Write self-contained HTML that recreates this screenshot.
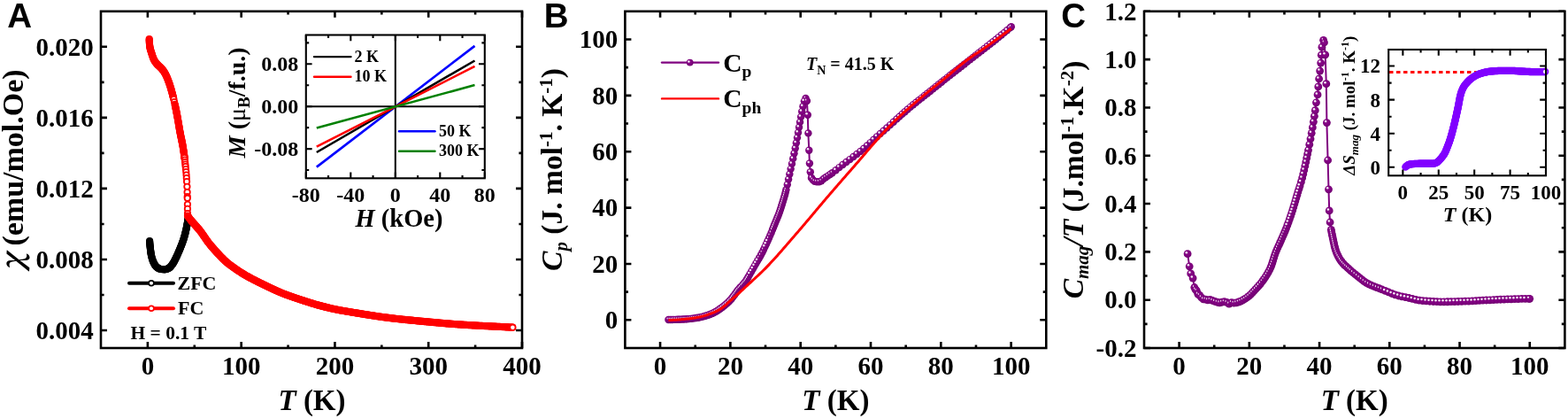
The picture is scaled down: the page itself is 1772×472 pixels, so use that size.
<!DOCTYPE html>
<html><head><meta charset="utf-8"><title>Figure</title>
<style>html,body{margin:0;padding:0;background:#fff;}svg{display:block;}</style>
</head><body>
<svg width="1772" height="472" viewBox="0 0 1772 472">
<defs><radialGradient id="ball" cx="0.45" cy="0.42" r="0.6">
<stop offset="0" stop-color="#8a108a"/><stop offset="0.6" stop-color="#800080"/><stop offset="1" stop-color="#6c006c"/>
</radialGradient></defs>
<rect width="1772" height="472" fill="#fff"/>
<g font-family="'Liberation Serif', 'Times New Roman', serif" font-weight="bold" fill="#000">
<path d="M166.89 393V386M166.89 12.8V19.8M272.67 393V386M272.67 12.8V19.8M378.44 393V386M378.44 12.8V19.8M484.22 393V386M484.22 12.8V19.8M590 393V386M590 12.8V19.8M219.78 393V389.4M219.78 12.8V16.4M325.56 393V389.4M325.56 12.8V16.4M431.33 393V389.4M431.33 12.8V16.4M537.11 393V389.4M537.11 12.8V16.4M114 372.99H121M590 372.99H583M114 292.95H121M590 292.95H583M114 212.91H121M590 212.91H583M114 132.86H121M590 132.86H583M114 52.82H121M590 52.82H583M114 332.97H117.6M590 332.97H586.4M114 252.93H117.6M590 252.93H586.4M114 172.88H117.6M590 172.88H586.4M114 92.84H117.6M590 92.84H586.4" stroke="#000" stroke-width="2.6" fill="none"/>
<rect x="114" y="12.8" width="476" height="380.2" stroke="#000" stroke-width="2.6" fill="none"/>
<text x="166.89" y="423.2" font-size="29" text-anchor="middle">0</text>
<text x="272.67" y="423.2" font-size="29" text-anchor="middle">100</text>
<text x="378.44" y="423.2" font-size="29" text-anchor="middle">200</text>
<text x="484.22" y="423.2" font-size="29" text-anchor="middle">300</text>
<text x="590" y="423.2" font-size="29" text-anchor="middle">400</text>
<text x="105.8" y="382.79" font-size="29" text-anchor="end">0.004</text>
<text x="105.8" y="302.75" font-size="29" text-anchor="end">0.008</text>
<text x="105.8" y="222.71" font-size="29" text-anchor="end">0.012</text>
<text x="105.8" y="142.66" font-size="29" text-anchor="end">0.016</text>
<text x="105.8" y="62.62" font-size="29" text-anchor="end">0.020</text>
</g>
<g fill="#fff" stroke="#000" stroke-width="1.8">
<circle cx="169.1" cy="272" r="3.2"/>
<circle cx="169.17" cy="273" r="3.2"/>
<circle cx="169.24" cy="274" r="3.2"/>
<circle cx="169.32" cy="274.99" r="3.2"/>
<circle cx="169.4" cy="275.99" r="3.2"/>
<circle cx="169.49" cy="276.99" r="3.2"/>
<circle cx="169.59" cy="277.98" r="3.2"/>
<circle cx="169.69" cy="278.98" r="3.2"/>
<circle cx="169.8" cy="279.97" r="3.2"/>
<circle cx="169.91" cy="280.96" r="3.2"/>
<circle cx="170.02" cy="281.96" r="3.2"/>
<circle cx="170.14" cy="282.96" r="3.2"/>
<circle cx="170.27" cy="283.95" r="3.2"/>
<circle cx="170.4" cy="284.95" r="3.2"/>
<circle cx="170.55" cy="285.94" r="3.2"/>
<circle cx="170.71" cy="286.92" r="3.2"/>
<circle cx="170.88" cy="287.9" r="3.2"/>
<circle cx="171.08" cy="288.87" r="3.2"/>
<circle cx="171.3" cy="289.85" r="3.2"/>
<circle cx="171.55" cy="290.83" r="3.2"/>
<circle cx="171.82" cy="291.8" r="3.2"/>
<circle cx="172.13" cy="292.77" r="3.2"/>
<circle cx="172.46" cy="293.72" r="3.2"/>
<circle cx="172.81" cy="294.66" r="3.2"/>
<circle cx="173.18" cy="295.58" r="3.2"/>
<circle cx="173.58" cy="296.47" r="3.2"/>
<circle cx="174.02" cy="297.37" r="3.2"/>
<circle cx="174.51" cy="298.28" r="3.2"/>
<circle cx="175.06" cy="299.16" r="3.2"/>
<circle cx="175.65" cy="300" r="3.2"/>
<circle cx="176.28" cy="300.78" r="3.2"/>
<circle cx="176.95" cy="301.45" r="3.2"/>
<circle cx="177.69" cy="302.08" r="3.2"/>
<circle cx="178.52" cy="302.69" r="3.2"/>
<circle cx="179.43" cy="303.23" r="3.2"/>
<circle cx="180.36" cy="303.63" r="3.2"/>
<circle cx="181.29" cy="303.85" r="3.2"/>
<circle cx="182.26" cy="304" r="3.2"/>
<circle cx="183.26" cy="304.13" r="3.2"/>
<circle cx="184.28" cy="304.23" r="3.2"/>
<circle cx="185.29" cy="304.29" r="3.2"/>
<circle cx="186.28" cy="304.29" r="3.2"/>
<circle cx="187.29" cy="304.16" r="3.2"/>
<circle cx="188.29" cy="303.9" r="3.2"/>
<circle cx="189.27" cy="303.55" r="3.2"/>
<circle cx="190.17" cy="303.16" r="3.2"/>
<circle cx="190.98" cy="302.73" r="3.2"/>
<circle cx="191.75" cy="302.16" r="3.2"/>
<circle cx="192.49" cy="301.47" r="3.2"/>
<circle cx="193.18" cy="300.69" r="3.2"/>
<circle cx="193.84" cy="299.87" r="3.2"/>
<circle cx="194.47" cy="299.03" r="3.2"/>
<circle cx="195.05" cy="298.22" r="3.2"/>
<circle cx="195.61" cy="297.41" r="3.2"/>
<circle cx="196.12" cy="296.56" r="3.2"/>
<circle cx="196.62" cy="295.69" r="3.2"/>
<circle cx="197.09" cy="294.8" r="3.2"/>
<circle cx="197.55" cy="293.9" r="3.2"/>
<circle cx="198" cy="293" r="3.2"/>
<circle cx="198.45" cy="292.1" r="3.2"/>
<circle cx="198.9" cy="291.21" r="3.2"/>
<circle cx="199.33" cy="290.31" r="3.2"/>
<circle cx="199.76" cy="289.4" r="3.2"/>
<circle cx="200.17" cy="288.49" r="3.2"/>
<circle cx="200.58" cy="287.58" r="3.2"/>
<circle cx="200.99" cy="286.66" r="3.2"/>
<circle cx="201.39" cy="285.75" r="3.2"/>
<circle cx="201.79" cy="284.83" r="3.2"/>
<circle cx="202.19" cy="283.91" r="3.2"/>
<circle cx="202.58" cy="282.99" r="3.2"/>
<circle cx="202.97" cy="282.07" r="3.2"/>
<circle cx="203.35" cy="281.15" r="3.2"/>
<circle cx="203.73" cy="280.22" r="3.2"/>
<circle cx="204.11" cy="279.29" r="3.2"/>
<circle cx="204.47" cy="278.36" r="3.2"/>
<circle cx="204.84" cy="277.43" r="3.2"/>
<circle cx="205.19" cy="276.5" r="3.2"/>
<circle cx="205.55" cy="275.56" r="3.2"/>
<circle cx="205.9" cy="274.63" r="3.2"/>
<circle cx="206.25" cy="273.69" r="3.2"/>
<circle cx="206.59" cy="272.75" r="3.2"/>
<circle cx="206.92" cy="271.8" r="3.2"/>
<circle cx="207.25" cy="270.86" r="3.2"/>
<circle cx="207.56" cy="269.91" r="3.2"/>
<circle cx="207.86" cy="268.95" r="3.2"/>
<circle cx="208.15" cy="268" r="3.2"/>
<circle cx="208.43" cy="267.04" r="3.2"/>
<circle cx="208.69" cy="266.08" r="3.2"/>
<circle cx="208.95" cy="265.11" r="3.2"/>
<circle cx="209.21" cy="264.14" r="3.2"/>
<circle cx="209.45" cy="263.17" r="3.2"/>
<circle cx="209.69" cy="262.2" r="3.2"/>
<circle cx="209.92" cy="261.22" r="3.2"/>
<circle cx="210.14" cy="260.25" r="3.2"/>
<circle cx="210.36" cy="259.27" r="3.2"/>
<circle cx="210.57" cy="258.3" r="3.2"/>
<circle cx="210.78" cy="257.32" r="3.2"/>
<circle cx="210.98" cy="256.34" r="3.2"/>
<circle cx="211.17" cy="255.36" r="3.2"/>
<circle cx="211.36" cy="254.37" r="3.2"/>
<circle cx="211.54" cy="253.39" r="3.2"/>
<circle cx="211.73" cy="252.41" r="3.2"/>
<circle cx="211.9" cy="251.42" r="3.2"/>
<circle cx="212.08" cy="250.44" r="3.2"/>
<circle cx="212.25" cy="249.45" r="3.2"/>
<circle cx="212.41" cy="248.47" r="3.2"/>
<circle cx="212.57" cy="247.48" r="3.2"/>
<circle cx="212.72" cy="246.49" r="3.2"/>
<circle cx="212.8" cy="246" r="3.2"/>
</g>
<g fill="#fff" stroke="#f00" stroke-width="1.8">
<circle cx="168.7" cy="44" r="3.2"/>
<circle cx="168.71" cy="45.01" r="3.2"/>
<circle cx="168.74" cy="46.02" r="3.2"/>
<circle cx="168.79" cy="47.02" r="3.2"/>
<circle cx="168.85" cy="48.02" r="3.2"/>
<circle cx="168.92" cy="49.02" r="3.2"/>
<circle cx="169.01" cy="50.01" r="3.2"/>
<circle cx="169.1" cy="51" r="3.2"/>
<circle cx="169.2" cy="51.98" r="3.2"/>
<circle cx="169.32" cy="52.97" r="3.2"/>
<circle cx="169.5" cy="53.94" r="3.2"/>
<circle cx="169.72" cy="54.92" r="3.2"/>
<circle cx="169.98" cy="55.89" r="3.2"/>
<circle cx="170.26" cy="56.85" r="3.2"/>
<circle cx="170.57" cy="57.82" r="3.2"/>
<circle cx="170.88" cy="58.78" r="3.2"/>
<circle cx="171.19" cy="59.73" r="3.2"/>
<circle cx="171.5" cy="60.69" r="3.2"/>
<circle cx="171.8" cy="61.64" r="3.2"/>
<circle cx="172.1" cy="62.6" r="3.2"/>
<circle cx="172.42" cy="63.56" r="3.2"/>
<circle cx="172.75" cy="64.51" r="3.2"/>
<circle cx="173.1" cy="65.45" r="3.2"/>
<circle cx="173.48" cy="66.38" r="3.2"/>
<circle cx="173.89" cy="67.27" r="3.2"/>
<circle cx="174.34" cy="68.14" r="3.2"/>
<circle cx="174.85" cy="69" r="3.2"/>
<circle cx="175.41" cy="69.84" r="3.2"/>
<circle cx="176.01" cy="70.66" r="3.2"/>
<circle cx="176.63" cy="71.45" r="3.2"/>
<circle cx="177.27" cy="72.23" r="3.2"/>
<circle cx="177.92" cy="72.97" r="3.2"/>
<circle cx="178.63" cy="73.67" r="3.2"/>
<circle cx="179.37" cy="74.34" r="3.2"/>
<circle cx="180.13" cy="75.01" r="3.2"/>
<circle cx="180.88" cy="75.68" r="3.2"/>
<circle cx="181.6" cy="76.38" r="3.2"/>
<circle cx="182.27" cy="77.11" r="3.2"/>
<circle cx="182.93" cy="77.86" r="3.2"/>
<circle cx="183.58" cy="78.63" r="3.2"/>
<circle cx="184.22" cy="79.42" r="3.2"/>
<circle cx="184.82" cy="80.22" r="3.2"/>
<circle cx="185.4" cy="81.04" r="3.2"/>
<circle cx="185.93" cy="81.88" r="3.2"/>
<circle cx="186.42" cy="82.73" r="3.2"/>
<circle cx="186.89" cy="83.6" r="3.2"/>
<circle cx="187.34" cy="84.48" r="3.2"/>
<circle cx="187.78" cy="85.38" r="3.2"/>
<circle cx="188.2" cy="86.3" r="3.2"/>
<circle cx="188.6" cy="87.22" r="3.2"/>
<circle cx="189" cy="88.15" r="3.2"/>
<circle cx="189.38" cy="89.09" r="3.2"/>
<circle cx="189.75" cy="90.02" r="3.2"/>
<circle cx="190.11" cy="90.96" r="3.2"/>
<circle cx="190.46" cy="91.89" r="3.2"/>
<circle cx="190.81" cy="92.83" r="3.2"/>
<circle cx="191.14" cy="93.77" r="3.2"/>
<circle cx="191.47" cy="94.71" r="3.2"/>
<circle cx="191.79" cy="95.66" r="3.2"/>
<circle cx="192.1" cy="96.61" r="3.2"/>
<circle cx="192.4" cy="97.57" r="3.2"/>
<circle cx="192.7" cy="98.53" r="3.2"/>
<circle cx="192.98" cy="99.48" r="3.2"/>
<circle cx="193.27" cy="100.45" r="3.2"/>
<circle cx="193.55" cy="101.41" r="3.2"/>
<circle cx="193.82" cy="102.37" r="3.2"/>
<circle cx="194.09" cy="103.33" r="3.2"/>
<circle cx="194.36" cy="104.29" r="3.2"/>
<circle cx="194.62" cy="105.26" r="3.2"/>
<circle cx="194.87" cy="106.23" r="3.2"/>
<circle cx="195.12" cy="107.19" r="3.2"/>
<circle cx="195.37" cy="108.16" r="3.2"/>
<circle cx="195.61" cy="109.13" r="3.2"/>
<circle cx="195.85" cy="110.11" r="3.2"/>
<circle cx="196.09" cy="111.08" r="3.2"/>
<circle cx="196.32" cy="112.05" r="3.2"/>
<circle cx="196.99" cy="114.98" r="3.2"/>
<circle cx="197.65" cy="117.9" r="3.2"/>
<circle cx="197.86" cy="118.88" r="3.2"/>
<circle cx="198.07" cy="119.86" r="3.2"/>
<circle cx="198.28" cy="120.84" r="3.2"/>
<circle cx="198.48" cy="121.81" r="3.2"/>
<circle cx="198.68" cy="122.79" r="3.2"/>
<circle cx="198.88" cy="123.77" r="3.2"/>
<circle cx="199.08" cy="124.75" r="3.2"/>
<circle cx="199.28" cy="125.74" r="3.2"/>
<circle cx="199.47" cy="126.72" r="3.2"/>
<circle cx="199.67" cy="127.7" r="3.2"/>
<circle cx="199.86" cy="128.68" r="3.2"/>
<circle cx="200.05" cy="129.66" r="3.2"/>
<circle cx="200.23" cy="130.64" r="3.2"/>
<circle cx="200.42" cy="131.63" r="3.2"/>
<circle cx="200.6" cy="132.61" r="3.2"/>
<circle cx="200.78" cy="133.59" r="3.2"/>
<circle cx="200.95" cy="134.58" r="3.2"/>
<circle cx="201.12" cy="135.56" r="3.2"/>
<circle cx="201.29" cy="136.55" r="3.2"/>
<circle cx="201.46" cy="137.53" r="3.2"/>
<circle cx="201.63" cy="138.52" r="3.2"/>
<circle cx="201.79" cy="139.51" r="3.2"/>
<circle cx="201.96" cy="140.49" r="3.2"/>
<circle cx="202.12" cy="141.48" r="3.2"/>
<circle cx="202.28" cy="142.47" r="3.2"/>
<circle cx="202.45" cy="143.45" r="3.2"/>
<circle cx="202.62" cy="144.44" r="3.2"/>
<circle cx="202.78" cy="145.43" r="3.2"/>
<circle cx="202.96" cy="146.41" r="3.2"/>
<circle cx="203.13" cy="147.4" r="3.2"/>
<circle cx="203.3" cy="148.38" r="3.2"/>
<circle cx="203.48" cy="149.36" r="3.2"/>
<circle cx="203.67" cy="150.35" r="3.2"/>
<circle cx="203.85" cy="151.33" r="3.2"/>
<circle cx="204.05" cy="152.31" r="3.2"/>
<circle cx="204.25" cy="153.29" r="3.2"/>
<circle cx="204.45" cy="154.27" r="3.2"/>
<circle cx="204.66" cy="155.25" r="3.2"/>
<circle cx="204.86" cy="156.23" r="3.2"/>
<circle cx="205.07" cy="157.21" r="3.2"/>
<circle cx="205.28" cy="158.19" r="3.2"/>
<circle cx="205.48" cy="159.16" r="3.2"/>
<circle cx="205.68" cy="160.14" r="3.2"/>
<circle cx="205.88" cy="161.12" r="3.2"/>
<circle cx="206.07" cy="162.11" r="3.2"/>
<circle cx="206.26" cy="163.09" r="3.2"/>
<circle cx="206.44" cy="164.07" r="3.2"/>
<circle cx="206.61" cy="165.06" r="3.2"/>
<circle cx="206.77" cy="166.04" r="3.2"/>
<circle cx="206.94" cy="167.03" r="3.2"/>
<circle cx="207.09" cy="168.01" r="3.2"/>
<circle cx="207.25" cy="169" r="3.2"/>
<circle cx="207.4" cy="169.99" r="3.2"/>
<circle cx="207.55" cy="170.98" r="3.2"/>
<circle cx="207.7" cy="171.97" r="3.2"/>
<circle cx="207.84" cy="172.96" r="3.2"/>
<circle cx="207.98" cy="173.95" r="3.2"/>
<circle cx="208.11" cy="174.94" r="3.2"/>
<circle cx="208.25" cy="175.93" r="3.2"/>
<circle cx="208.37" cy="176.92" r="3.2"/>
<circle cx="208.5" cy="177.92" r="3.2"/>
<circle cx="208.51" cy="178" r="3.2"/>
<circle cx="208.51" cy="178" r="3.2"/>
<circle cx="208.85" cy="180.5" r="3.2"/>
<circle cx="209.12" cy="183" r="3.2"/>
<circle cx="209.39" cy="185.5" r="3.2"/>
<circle cx="209.65" cy="188" r="3.2"/>
<circle cx="209.97" cy="191" r="3.2"/>
<circle cx="210.29" cy="194" r="3.2"/>
<circle cx="210.57" cy="197.5" r="3.2"/>
<circle cx="210.8" cy="201" r="3.2"/>
<circle cx="211.07" cy="205" r="3.2"/>
<circle cx="211.42" cy="210.8" r="3.2"/>
<circle cx="211.6" cy="217.1" r="3.2"/>
<circle cx="211.73" cy="222" r="3.2"/>
<circle cx="211.78" cy="223.8" r="3.2"/>
<circle cx="211.92" cy="230.8" r="3.2"/>
<circle cx="211.95" cy="235.9" r="3.2"/>
<circle cx="211.98" cy="241" r="3.2"/>
<circle cx="212" cy="243.5" r="3.2"/>
<circle cx="212.55" cy="244.34" r="3.2"/>
<circle cx="213.11" cy="245.17" r="3.2"/>
<circle cx="213.68" cy="245.99" r="3.2"/>
<circle cx="214.27" cy="246.8" r="3.2"/>
<circle cx="214.87" cy="247.59" r="3.2"/>
<circle cx="215.49" cy="248.37" r="3.2"/>
<circle cx="216.13" cy="249.14" r="3.2"/>
<circle cx="216.79" cy="249.89" r="3.2"/>
<circle cx="217.45" cy="250.64" r="3.2"/>
<circle cx="218.12" cy="251.39" r="3.2"/>
<circle cx="218.79" cy="252.13" r="3.2"/>
<circle cx="219.46" cy="252.88" r="3.2"/>
<circle cx="220.12" cy="253.63" r="3.2"/>
<circle cx="220.77" cy="254.39" r="3.2"/>
<circle cx="221.43" cy="255.14" r="3.2"/>
<circle cx="222.09" cy="255.89" r="3.2"/>
<circle cx="222.76" cy="256.65" r="3.2"/>
<circle cx="223.41" cy="257.4" r="3.2"/>
<circle cx="224.07" cy="258.16" r="3.2"/>
<circle cx="224.71" cy="258.92" r="3.2"/>
<circle cx="225.35" cy="259.69" r="3.2"/>
<circle cx="225.97" cy="260.47" r="3.2"/>
<circle cx="226.59" cy="261.25" r="3.2"/>
<circle cx="227.19" cy="262.05" r="3.2"/>
<circle cx="227.78" cy="262.86" r="3.2"/>
<circle cx="228.36" cy="263.67" r="3.2"/>
<circle cx="228.94" cy="264.49" r="3.2"/>
<circle cx="229.51" cy="265.31" r="3.2"/>
<circle cx="230.07" cy="266.14" r="3.2"/>
<circle cx="230.64" cy="266.97" r="3.2"/>
<circle cx="231.2" cy="267.8" r="3.2"/>
<circle cx="231.76" cy="268.62" r="3.2"/>
<circle cx="232.33" cy="269.45" r="3.2"/>
<circle cx="232.9" cy="270.28" r="3.2"/>
<circle cx="233.47" cy="271.1" r="3.2"/>
<circle cx="234.05" cy="271.91" r="3.2"/>
<circle cx="234.64" cy="272.72" r="3.2"/>
<circle cx="235.24" cy="273.52" r="3.2"/>
<circle cx="235.85" cy="274.31" r="3.2"/>
<circle cx="236.47" cy="275.09" r="3.2"/>
<circle cx="237.09" cy="275.87" r="3.2"/>
<circle cx="237.72" cy="276.64" r="3.2"/>
<circle cx="238.36" cy="277.41" r="3.2"/>
<circle cx="239.01" cy="278.17" r="3.2"/>
<circle cx="239.65" cy="278.94" r="3.2"/>
<circle cx="240.31" cy="279.7" r="3.2"/>
<circle cx="240.97" cy="280.45" r="3.2"/>
<circle cx="241.63" cy="281.2" r="3.2"/>
<circle cx="242.29" cy="281.95" r="3.2"/>
<circle cx="242.96" cy="282.7" r="3.2"/>
<circle cx="243.64" cy="283.44" r="3.2"/>
<circle cx="244.31" cy="284.18" r="3.2"/>
<circle cx="244.99" cy="284.91" r="3.2"/>
<circle cx="245.67" cy="285.64" r="3.2"/>
<circle cx="246.35" cy="286.38" r="3.2"/>
<circle cx="247.03" cy="287.11" r="3.2"/>
<circle cx="247.72" cy="287.84" r="3.2"/>
<circle cx="248.4" cy="288.57" r="3.2"/>
<circle cx="249.09" cy="289.3" r="3.2"/>
<circle cx="249.79" cy="290.02" r="3.2"/>
<circle cx="250.48" cy="290.74" r="3.2"/>
<circle cx="251.19" cy="291.46" r="3.2"/>
<circle cx="251.89" cy="292.17" r="3.2"/>
<circle cx="252.61" cy="292.87" r="3.2"/>
<circle cx="253.33" cy="293.57" r="3.2"/>
<circle cx="254.05" cy="294.25" r="3.2"/>
<circle cx="254.79" cy="294.93" r="3.2"/>
<circle cx="255.53" cy="295.59" r="3.2"/>
<circle cx="256.28" cy="296.24" r="3.2"/>
<circle cx="257.04" cy="296.88" r="3.2"/>
<circle cx="257.82" cy="297.51" r="3.2"/>
<circle cx="258.6" cy="298.13" r="3.2"/>
<circle cx="259.39" cy="298.74" r="3.2"/>
<circle cx="260.19" cy="299.35" r="3.2"/>
<circle cx="260.99" cy="299.94" r="3.2"/>
<circle cx="261.8" cy="300.53" r="3.2"/>
<circle cx="262.62" cy="301.12" r="3.2"/>
<circle cx="263.44" cy="301.7" r="3.2"/>
<circle cx="264.25" cy="302.28" r="3.2"/>
<circle cx="265.08" cy="302.85" r="3.2"/>
<circle cx="265.89" cy="303.43" r="3.2"/>
<circle cx="266.72" cy="304" r="3.2"/>
<circle cx="267.54" cy="304.56" r="3.2"/>
<circle cx="268.37" cy="305.13" r="3.2"/>
<circle cx="269.2" cy="305.68" r="3.2"/>
<circle cx="270.03" cy="306.24" r="3.2"/>
<circle cx="270.87" cy="306.79" r="3.2"/>
<circle cx="271.71" cy="307.33" r="3.2"/>
<circle cx="272.55" cy="307.87" r="3.2"/>
<circle cx="273.4" cy="308.41" r="3.2"/>
<circle cx="274.24" cy="308.93" r="3.2"/>
<circle cx="275.1" cy="309.46" r="3.2"/>
<circle cx="275.95" cy="309.97" r="3.2"/>
<circle cx="276.81" cy="310.48" r="3.2"/>
<circle cx="277.68" cy="310.98" r="3.2"/>
<circle cx="278.54" cy="311.48" r="3.2"/>
<circle cx="279.42" cy="311.97" r="3.2"/>
<circle cx="280.29" cy="312.45" r="3.2"/>
<circle cx="281.17" cy="312.93" r="3.2"/>
<circle cx="282.05" cy="313.41" r="3.2"/>
<circle cx="282.93" cy="313.88" r="3.2"/>
<circle cx="283.82" cy="314.35" r="3.2"/>
<circle cx="284.7" cy="314.82" r="3.2"/>
<circle cx="285.59" cy="315.28" r="3.2"/>
<circle cx="286.47" cy="315.75" r="3.2"/>
<circle cx="287.36" cy="316.21" r="3.2"/>
<circle cx="288.25" cy="316.66" r="3.2"/>
<circle cx="289.14" cy="317.12" r="3.2"/>
<circle cx="290.03" cy="317.57" r="3.2"/>
<circle cx="290.93" cy="318.02" r="3.2"/>
<circle cx="291.82" cy="318.46" r="3.2"/>
<circle cx="292.72" cy="318.9" r="3.2"/>
<circle cx="293.62" cy="319.34" r="3.2"/>
<circle cx="294.52" cy="319.78" r="3.2"/>
<circle cx="295.42" cy="320.22" r="3.2"/>
<circle cx="296.32" cy="320.65" r="3.2"/>
<circle cx="297.22" cy="321.09" r="3.2"/>
<circle cx="298.12" cy="321.52" r="3.2"/>
<circle cx="299.02" cy="321.96" r="3.2"/>
<circle cx="299.92" cy="322.39" r="3.2"/>
<circle cx="300.82" cy="322.83" r="3.2"/>
<circle cx="301.72" cy="323.27" r="3.2"/>
<circle cx="302.62" cy="323.7" r="3.2"/>
<circle cx="303.53" cy="324.14" r="3.2"/>
<circle cx="304.43" cy="324.57" r="3.2"/>
<circle cx="305.33" cy="325" r="3.2"/>
<circle cx="306.24" cy="325.43" r="3.2"/>
<circle cx="307.14" cy="325.86" r="3.2"/>
<circle cx="308.05" cy="326.28" r="3.2"/>
<circle cx="308.96" cy="326.71" r="3.2"/>
<circle cx="309.87" cy="327.13" r="3.2"/>
<circle cx="310.78" cy="327.54" r="3.2"/>
<circle cx="311.69" cy="327.96" r="3.2"/>
<circle cx="312.6" cy="328.37" r="3.2"/>
<circle cx="313.51" cy="328.77" r="3.2"/>
<circle cx="314.43" cy="329.18" r="3.2"/>
<circle cx="315.34" cy="329.57" r="3.2"/>
<circle cx="316.26" cy="329.97" r="3.2"/>
<circle cx="317.18" cy="330.35" r="3.2"/>
<circle cx="318.11" cy="330.74" r="3.2"/>
<circle cx="319.03" cy="331.11" r="3.2"/>
<circle cx="319.95" cy="331.48" r="3.2"/>
<circle cx="320.88" cy="331.85" r="3.2"/>
<circle cx="321.81" cy="332.21" r="3.2"/>
<circle cx="322.75" cy="332.56" r="3.2"/>
<circle cx="323.68" cy="332.91" r="3.2"/>
<circle cx="324.62" cy="333.26" r="3.2"/>
<circle cx="325.56" cy="333.6" r="3.2"/>
<circle cx="326.5" cy="333.94" r="3.2"/>
<circle cx="327.44" cy="334.27" r="3.2"/>
<circle cx="328.39" cy="334.61" r="3.2"/>
<circle cx="329.33" cy="334.93" r="3.2"/>
<circle cx="330.28" cy="335.26" r="3.2"/>
<circle cx="331.22" cy="335.58" r="3.2"/>
<circle cx="332.17" cy="335.91" r="3.2"/>
<circle cx="333.12" cy="336.23" r="3.2"/>
<circle cx="334.07" cy="336.54" r="3.2"/>
<circle cx="335.02" cy="336.86" r="3.2"/>
<circle cx="335.97" cy="337.17" r="3.2"/>
<circle cx="336.92" cy="337.49" r="3.2"/>
<circle cx="337.87" cy="337.8" r="3.2"/>
<circle cx="338.82" cy="338.11" r="3.2"/>
<circle cx="339.77" cy="338.43" r="3.2"/>
<circle cx="340.72" cy="338.74" r="3.2"/>
<circle cx="341.67" cy="339.05" r="3.2"/>
<circle cx="342.62" cy="339.36" r="3.2"/>
<circle cx="343.57" cy="339.67" r="3.2"/>
<circle cx="344.52" cy="339.99" r="3.2"/>
<circle cx="345.48" cy="340.3" r="3.2"/>
<circle cx="346.43" cy="340.6" r="3.2"/>
<circle cx="347.38" cy="340.91" r="3.2"/>
<circle cx="348.33" cy="341.22" r="3.2"/>
<circle cx="349.29" cy="341.52" r="3.2"/>
<circle cx="350.24" cy="341.82" r="3.2"/>
<circle cx="351.2" cy="342.12" r="3.2"/>
<circle cx="352.15" cy="342.42" r="3.2"/>
<circle cx="353.11" cy="342.71" r="3.2"/>
<circle cx="354.07" cy="343" r="3.2"/>
<circle cx="355.02" cy="343.29" r="3.2"/>
<circle cx="355.98" cy="343.57" r="3.2"/>
<circle cx="356.94" cy="343.85" r="3.2"/>
<circle cx="357.9" cy="344.12" r="3.2"/>
<circle cx="358.87" cy="344.39" r="3.2"/>
<circle cx="359.83" cy="344.65" r="3.2"/>
<circle cx="360.79" cy="344.91" r="3.2"/>
<circle cx="361.76" cy="345.17" r="3.2"/>
<circle cx="362.72" cy="345.43" r="3.2"/>
<circle cx="363.69" cy="345.68" r="3.2"/>
<circle cx="364.66" cy="345.93" r="3.2"/>
<circle cx="365.63" cy="346.18" r="3.2"/>
<circle cx="366.6" cy="346.43" r="3.2"/>
<circle cx="367.57" cy="346.67" r="3.2"/>
<circle cx="368.54" cy="346.91" r="3.2"/>
<circle cx="369.51" cy="347.15" r="3.2"/>
<circle cx="370.49" cy="347.39" r="3.2"/>
<circle cx="371.46" cy="347.62" r="3.2"/>
<circle cx="372.43" cy="347.85" r="3.2"/>
<circle cx="373.41" cy="348.07" r="3.2"/>
<circle cx="374.38" cy="348.3" r="3.2"/>
<circle cx="375.36" cy="348.51" r="3.2"/>
<circle cx="376.34" cy="348.73" r="3.2"/>
<circle cx="377.31" cy="348.94" r="3.2"/>
<circle cx="378.29" cy="349.15" r="3.2"/>
<circle cx="379.27" cy="349.35" r="3.2"/>
<circle cx="380.25" cy="349.55" r="3.2"/>
<circle cx="381.23" cy="349.75" r="3.2"/>
<circle cx="382.21" cy="349.94" r="3.2"/>
<circle cx="383.19" cy="350.13" r="3.2"/>
<circle cx="384.17" cy="350.31" r="3.2"/>
<circle cx="385.16" cy="350.49" r="3.2"/>
<circle cx="386.14" cy="350.67" r="3.2"/>
<circle cx="387.12" cy="350.85" r="3.2"/>
<circle cx="388.11" cy="351.02" r="3.2"/>
<circle cx="389.09" cy="351.19" r="3.2"/>
<circle cx="390.08" cy="351.36" r="3.2"/>
<circle cx="391.07" cy="351.53" r="3.2"/>
<circle cx="392.05" cy="351.7" r="3.2"/>
<circle cx="393.04" cy="351.86" r="3.2"/>
<circle cx="394.03" cy="352.02" r="3.2"/>
<circle cx="395.02" cy="352.19" r="3.2"/>
<circle cx="396" cy="352.35" r="3.2"/>
<circle cx="396.99" cy="352.51" r="3.2"/>
<circle cx="397.98" cy="352.67" r="3.2"/>
<circle cx="398.96" cy="352.83" r="3.2"/>
<circle cx="399.95" cy="352.99" r="3.2"/>
<circle cx="400.94" cy="353.15" r="3.2"/>
<circle cx="401.92" cy="353.31" r="3.2"/>
<circle cx="402.91" cy="353.47" r="3.2"/>
<circle cx="403.9" cy="353.64" r="3.2"/>
<circle cx="404.89" cy="353.8" r="3.2"/>
<circle cx="405.87" cy="353.96" r="3.2"/>
<circle cx="406.86" cy="354.12" r="3.2"/>
<circle cx="407.85" cy="354.28" r="3.2"/>
<circle cx="408.84" cy="354.44" r="3.2"/>
<circle cx="409.82" cy="354.6" r="3.2"/>
<circle cx="410.81" cy="354.76" r="3.2"/>
<circle cx="411.8" cy="354.92" r="3.2"/>
<circle cx="412.79" cy="355.07" r="3.2"/>
<circle cx="413.77" cy="355.23" r="3.2"/>
<circle cx="414.76" cy="355.39" r="3.2"/>
<circle cx="415.75" cy="355.54" r="3.2"/>
<circle cx="416.74" cy="355.7" r="3.2"/>
<circle cx="417.73" cy="355.85" r="3.2"/>
<circle cx="418.72" cy="356.01" r="3.2"/>
<circle cx="419.7" cy="356.16" r="3.2"/>
<circle cx="420.69" cy="356.31" r="3.2"/>
<circle cx="421.68" cy="356.46" r="3.2"/>
<circle cx="422.67" cy="356.61" r="3.2"/>
<circle cx="423.66" cy="356.76" r="3.2"/>
<circle cx="424.65" cy="356.91" r="3.2"/>
<circle cx="425.64" cy="357.06" r="3.2"/>
<circle cx="426.63" cy="357.2" r="3.2"/>
<circle cx="427.62" cy="357.34" r="3.2"/>
<circle cx="428.61" cy="357.49" r="3.2"/>
<circle cx="429.6" cy="357.63" r="3.2"/>
<circle cx="430.59" cy="357.77" r="3.2"/>
<circle cx="431.58" cy="357.9" r="3.2"/>
<circle cx="432.57" cy="358.04" r="3.2"/>
<circle cx="433.56" cy="358.17" r="3.2"/>
<circle cx="434.55" cy="358.31" r="3.2"/>
<circle cx="435.54" cy="358.44" r="3.2"/>
<circle cx="436.53" cy="358.56" r="3.2"/>
<circle cx="437.52" cy="358.69" r="3.2"/>
<circle cx="438.52" cy="358.82" r="3.2"/>
<circle cx="439.51" cy="358.94" r="3.2"/>
<circle cx="440.5" cy="359.06" r="3.2"/>
<circle cx="441.49" cy="359.18" r="3.2"/>
<circle cx="442.48" cy="359.3" r="3.2"/>
<circle cx="443.48" cy="359.41" r="3.2"/>
<circle cx="444.47" cy="359.53" r="3.2"/>
<circle cx="445.46" cy="359.64" r="3.2"/>
<circle cx="446.45" cy="359.76" r="3.2"/>
<circle cx="447.45" cy="359.87" r="3.2"/>
<circle cx="448.44" cy="359.98" r="3.2"/>
<circle cx="449.44" cy="360.09" r="3.2"/>
<circle cx="450.43" cy="360.2" r="3.2"/>
<circle cx="451.42" cy="360.31" r="3.2"/>
<circle cx="452.42" cy="360.41" r="3.2"/>
<circle cx="453.41" cy="360.52" r="3.2"/>
<circle cx="454.41" cy="360.62" r="3.2"/>
<circle cx="455.4" cy="360.73" r="3.2"/>
<circle cx="456.4" cy="360.83" r="3.2"/>
<circle cx="457.39" cy="360.93" r="3.2"/>
<circle cx="458.39" cy="361.03" r="3.2"/>
<circle cx="459.38" cy="361.13" r="3.2"/>
<circle cx="460.38" cy="361.23" r="3.2"/>
<circle cx="461.37" cy="361.33" r="3.2"/>
<circle cx="462.37" cy="361.43" r="3.2"/>
<circle cx="463.36" cy="361.53" r="3.2"/>
<circle cx="464.36" cy="361.62" r="3.2"/>
<circle cx="465.36" cy="361.72" r="3.2"/>
<circle cx="466.35" cy="361.82" r="3.2"/>
<circle cx="467.35" cy="361.91" r="3.2"/>
<circle cx="468.34" cy="362.01" r="3.2"/>
<circle cx="469.34" cy="362.1" r="3.2"/>
<circle cx="470.33" cy="362.2" r="3.2"/>
<circle cx="471.33" cy="362.29" r="3.2"/>
<circle cx="472.33" cy="362.38" r="3.2"/>
<circle cx="473.32" cy="362.48" r="3.2"/>
<circle cx="474.32" cy="362.57" r="3.2"/>
<circle cx="475.31" cy="362.66" r="3.2"/>
<circle cx="476.31" cy="362.76" r="3.2"/>
<circle cx="477.31" cy="362.85" r="3.2"/>
<circle cx="478.3" cy="362.94" r="3.2"/>
<circle cx="479.3" cy="363.03" r="3.2"/>
<circle cx="480.29" cy="363.13" r="3.2"/>
<circle cx="481.29" cy="363.22" r="3.2"/>
<circle cx="482.28" cy="363.31" r="3.2"/>
<circle cx="483.28" cy="363.41" r="3.2"/>
<circle cx="484.27" cy="363.5" r="3.2"/>
<circle cx="485.27" cy="363.59" r="3.2"/>
<circle cx="486.27" cy="363.68" r="3.2"/>
<circle cx="487.26" cy="363.78" r="3.2"/>
<circle cx="488.26" cy="363.87" r="3.2"/>
<circle cx="489.25" cy="363.96" r="3.2"/>
<circle cx="490.25" cy="364.05" r="3.2"/>
<circle cx="491.25" cy="364.14" r="3.2"/>
<circle cx="492.24" cy="364.23" r="3.2"/>
<circle cx="493.24" cy="364.33" r="3.2"/>
<circle cx="494.23" cy="364.42" r="3.2"/>
<circle cx="495.23" cy="364.51" r="3.2"/>
<circle cx="496.23" cy="364.6" r="3.2"/>
<circle cx="497.22" cy="364.69" r="3.2"/>
<circle cx="498.22" cy="364.77" r="3.2"/>
<circle cx="499.21" cy="364.86" r="3.2"/>
<circle cx="500.21" cy="364.95" r="3.2"/>
<circle cx="501.21" cy="365.04" r="3.2"/>
<circle cx="502.2" cy="365.12" r="3.2"/>
<circle cx="503.2" cy="365.21" r="3.2"/>
<circle cx="504.2" cy="365.29" r="3.2"/>
<circle cx="505.19" cy="365.38" r="3.2"/>
<circle cx="506.19" cy="365.46" r="3.2"/>
<circle cx="507.19" cy="365.54" r="3.2"/>
<circle cx="508.18" cy="365.62" r="3.2"/>
<circle cx="509.18" cy="365.7" r="3.2"/>
<circle cx="510.18" cy="365.78" r="3.2"/>
<circle cx="511.17" cy="365.86" r="3.2"/>
<circle cx="512.17" cy="365.94" r="3.2"/>
<circle cx="513.17" cy="366.01" r="3.2"/>
<circle cx="514.17" cy="366.09" r="3.2"/>
<circle cx="515.16" cy="366.16" r="3.2"/>
<circle cx="516.16" cy="366.23" r="3.2"/>
<circle cx="517.16" cy="366.3" r="3.2"/>
<circle cx="518.15" cy="366.37" r="3.2"/>
<circle cx="519.15" cy="366.44" r="3.2"/>
<circle cx="520.15" cy="366.51" r="3.2"/>
<circle cx="521.15" cy="366.58" r="3.2"/>
<circle cx="522.14" cy="366.64" r="3.2"/>
<circle cx="523.14" cy="366.7" r="3.2"/>
<circle cx="524.14" cy="366.77" r="3.2"/>
<circle cx="525.14" cy="366.83" r="3.2"/>
<circle cx="526.14" cy="366.89" r="3.2"/>
<circle cx="527.13" cy="366.95" r="3.2"/>
<circle cx="528.13" cy="367.01" r="3.2"/>
<circle cx="529.13" cy="367.07" r="3.2"/>
<circle cx="530.13" cy="367.13" r="3.2"/>
<circle cx="531.13" cy="367.18" r="3.2"/>
<circle cx="532.12" cy="367.24" r="3.2"/>
<circle cx="533.12" cy="367.3" r="3.2"/>
<circle cx="534.12" cy="367.35" r="3.2"/>
<circle cx="535.12" cy="367.41" r="3.2"/>
<circle cx="536.12" cy="367.46" r="3.2"/>
<circle cx="537.12" cy="367.52" r="3.2"/>
<circle cx="538.12" cy="367.57" r="3.2"/>
<circle cx="539.11" cy="367.62" r="3.2"/>
<circle cx="540.11" cy="367.67" r="3.2"/>
<circle cx="541.11" cy="367.73" r="3.2"/>
<circle cx="542.11" cy="367.78" r="3.2"/>
<circle cx="543.11" cy="367.83" r="3.2"/>
<circle cx="544.11" cy="367.88" r="3.2"/>
<circle cx="545.11" cy="367.93" r="3.2"/>
<circle cx="546.11" cy="367.98" r="3.2"/>
<circle cx="547.1" cy="368.04" r="3.2"/>
<circle cx="548.1" cy="368.09" r="3.2"/>
<circle cx="549.1" cy="368.14" r="3.2"/>
<circle cx="550.1" cy="368.19" r="3.2"/>
<circle cx="551.1" cy="368.24" r="3.2"/>
<circle cx="552.1" cy="368.29" r="3.2"/>
<circle cx="553.1" cy="368.34" r="3.2"/>
<circle cx="554.1" cy="368.39" r="3.2"/>
<circle cx="555.1" cy="368.44" r="3.2"/>
<circle cx="556.09" cy="368.5" r="3.2"/>
<circle cx="557.09" cy="368.55" r="3.2"/>
<circle cx="558.09" cy="368.6" r="3.2"/>
<circle cx="559.09" cy="368.65" r="3.2"/>
<circle cx="560.09" cy="368.7" r="3.2"/>
<circle cx="561.09" cy="368.76" r="3.2"/>
<circle cx="562.09" cy="368.81" r="3.2"/>
<circle cx="563.08" cy="368.86" r="3.2"/>
<circle cx="564.08" cy="368.91" r="3.2"/>
<circle cx="565.08" cy="368.97" r="3.2"/>
<circle cx="566.08" cy="369.02" r="3.2"/>
<circle cx="567.08" cy="369.07" r="3.2"/>
<circle cx="568.08" cy="369.12" r="3.2"/>
<circle cx="569.08" cy="369.17" r="3.2"/>
<circle cx="570.07" cy="369.23" r="3.2"/>
<circle cx="571.07" cy="369.28" r="3.2"/>
<circle cx="572.07" cy="369.33" r="3.2"/>
<circle cx="573.07" cy="369.38" r="3.2"/>
<circle cx="574.07" cy="369.43" r="3.2"/>
<circle cx="575.07" cy="369.48" r="3.2"/>
<circle cx="576.07" cy="369.53" r="3.2"/>
<circle cx="577.07" cy="369.58" r="3.2"/>
<circle cx="578.06" cy="369.63" r="3.2"/>
<circle cx="579.06" cy="369.68" r="3.2"/>
<circle cx="579.4" cy="369.7" r="3.2"/>
</g>
<g stroke-width="4" stroke-linecap="round">
<line x1="146" y1="319.7" x2="196" y2="319.7" stroke="#000"/>
<line x1="146" y1="348.3" x2="196" y2="348.3" stroke="#f00"/>
</g>
<circle cx="171" cy="319.7" r="2.9" fill="#fff" stroke="#000" stroke-width="1.7"/>
<circle cx="171" cy="348.3" r="2.9" fill="#fff" stroke="#f00" stroke-width="1.7"/>
<g font-family="'Liberation Serif', 'Times New Roman', serif" font-weight="bold" fill="#000" font-size="22">
<text x="200.5" y="327.2">ZFC</text>
<text x="201" y="355.3">FC</text>
<text x="147.5" y="382.5" font-size="21.5">H = 0.1 T</text>
</g>
<g font-family="'Liberation Serif', 'Times New Roman', serif" font-weight="bold" fill="#000" font-size="32">
<text x="352.5" y="462.8" text-anchor="middle" font-size="33"><tspan font-style="italic">T</tspan> (K)</text>
<text transform="translate(25.5 192.2) rotate(-90)" text-anchor="middle" font-size="34"><tspan font-family="'Noto Serif CJK SC', serif" font-style="italic" font-weight="bold">&#967;</tspan> (emu/mol.Oe)</text>
</g>
<rect x="345.8" y="39.5" width="202" height="161.8" fill="#fff"/>
<path d="M446.8 39.5V201.3 M345.8 120.2H547.8" stroke="#000" stroke-width="2" fill="none"/>
<line x1="357.8" y1="188.6" x2="536.5" y2="51.9" stroke="#00f" stroke-width="2.6"/>
<line x1="357.8" y1="172" x2="536.5" y2="68.5" stroke="#000" stroke-width="2.6"/>
<line x1="357.8" y1="165.6" x2="536.5" y2="74.9" stroke="#f00" stroke-width="2.6"/>
<line x1="357.8" y1="144.4" x2="536.5" y2="96.1" stroke="#008000" stroke-width="2.6"/>
<g font-family="'Liberation Serif', 'Times New Roman', serif" font-weight="bold" fill="#000">
<path d="M345.8 201.3V194.5M345.8 39.5V46.3M396.3 201.3V194.5M396.3 39.5V46.3M446.8 201.3V194.5M446.8 39.5V46.3M497.3 201.3V194.5M497.3 39.5V46.3M547.8 201.3V194.5M547.8 39.5V46.3M371.05 201.3V197.9M371.05 39.5V42.9M421.55 201.3V197.9M421.55 39.5V42.9M472.05 201.3V197.9M472.05 39.5V42.9M522.55 201.3V197.9M522.55 39.5V42.9M345.8 168.1H352.6M547.8 168.1H541M345.8 120.2H352.6M547.8 120.2H541M345.8 72.3H352.6M547.8 72.3H541M345.8 192.05H349.2M547.8 192.05H544.4M345.8 144.15H349.2M547.8 144.15H544.4M345.8 96.25H349.2M547.8 96.25H544.4M345.8 48.35H349.2M547.8 48.35H544.4" stroke="#000" stroke-width="2.1" fill="none"/>
<rect x="345.8" y="39.5" width="202" height="161.8" stroke="#000" stroke-width="2.1" fill="none"/>
<text x="345.8" y="228" font-size="24" text-anchor="middle">-80</text>
<text x="396.3" y="228" font-size="24" text-anchor="middle">-40</text>
<text x="446.8" y="228" font-size="24" text-anchor="middle">0</text>
<text x="497.3" y="228" font-size="24" text-anchor="middle">40</text>
<text x="547.8" y="228" font-size="24" text-anchor="middle">80</text>
<text x="337.3" y="176.2" font-size="24" text-anchor="end">-0.08</text>
<text x="337.3" y="128.3" font-size="24" text-anchor="end">0.00</text>
<text x="337.3" y="80.4" font-size="24" text-anchor="end">0.08</text>
</g>
<g stroke-width="2.4" stroke-linecap="round">
<line x1="355" y1="64.1" x2="396.5" y2="64.1" stroke="#000"/>
<line x1="355" y1="86.8" x2="396.5" y2="86.8" stroke="#f00"/>
<line x1="451" y1="148.2" x2="491.5" y2="148.2" stroke="#00f"/>
<line x1="451" y1="170.8" x2="491.5" y2="170.8" stroke="#008000"/>
</g>
<g font-family="'Liberation Serif', 'Times New Roman', serif" font-weight="bold" fill="#000" font-size="18">
<text x="400.5" y="69.9">2 K</text>
<text x="400.5" y="92.4">10 K</text>
<text x="496" y="154.1">50 K</text>
<text x="496" y="176.3">300 K</text>
</g>
<g font-family="'Liberation Serif', 'Times New Roman', serif" font-weight="bold" fill="#000" font-size="28.5">
<text x="451" y="256" text-anchor="middle"><tspan font-style="italic">H</tspan> (kOe)</text>
<text transform="translate(277 115.8) rotate(-90)" text-anchor="middle" font-size="28"><tspan font-style="italic">M</tspan> (<tspan font-weight="normal">&#956;</tspan><tspan font-size="19" dy="5">B</tspan><tspan dy="-5">/f.u.)</tspan></text>
</g>
<g font-family="'Liberation Serif', 'Times New Roman', serif" font-weight="bold" fill="#000">
<path d="M746.06 393V386M746.06 12.8V19.8M825.38 393V386M825.38 12.8V19.8M904.69 393V386M904.69 12.8V19.8M984.01 393V386M984.01 12.8V19.8M1063.32 393V386M1063.32 12.8V19.8M1142.64 393V386M1142.64 12.8V19.8M785.72 393V389.4M785.72 12.8V16.4M865.03 393V389.4M865.03 12.8V16.4M944.35 393V389.4M944.35 12.8V16.4M1023.67 393V389.4M1023.67 12.8V16.4M1102.98 393V389.4M1102.98 12.8V16.4M706.4 361.32H713.4M1182.3 361.32H1175.3M706.4 297.95H713.4M1182.3 297.95H1175.3M706.4 234.58H713.4M1182.3 234.58H1175.3M706.4 171.22H713.4M1182.3 171.22H1175.3M706.4 107.85H713.4M1182.3 107.85H1175.3M706.4 44.48H713.4M1182.3 44.48H1175.3M706.4 329.63H710M1182.3 329.63H1178.7M706.4 266.27H710M1182.3 266.27H1178.7M706.4 202.9H710M1182.3 202.9H1178.7M706.4 139.53H710M1182.3 139.53H1178.7M706.4 76.17H710M1182.3 76.17H1178.7" stroke="#000" stroke-width="2.6" fill="none"/>
<rect x="706.4" y="12.8" width="475.9" height="380.2" stroke="#000" stroke-width="2.6" fill="none"/>
<text x="746.06" y="423.2" font-size="29" text-anchor="middle">0</text>
<text x="825.38" y="423.2" font-size="29" text-anchor="middle">20</text>
<text x="904.69" y="423.2" font-size="29" text-anchor="middle">40</text>
<text x="984.01" y="423.2" font-size="29" text-anchor="middle">60</text>
<text x="1063.32" y="423.2" font-size="29" text-anchor="middle">80</text>
<text x="1142.64" y="423.2" font-size="29" text-anchor="middle">100</text>
<text x="698.3" y="371.12" font-size="29" text-anchor="end">0</text>
<text x="698.3" y="307.75" font-size="29" text-anchor="end">20</text>
<text x="698.3" y="244.38" font-size="29" text-anchor="end">40</text>
<text x="698.3" y="181.02" font-size="29" text-anchor="end">60</text>
<text x="698.3" y="117.65" font-size="29" text-anchor="end">80</text>
<text x="698.3" y="54.28" font-size="29" text-anchor="end">100</text>
</g>
<polyline points="755.4,361 757.51,360.99 759.61,360.96 761.71,360.92 763.81,360.86 765.91,360.79 768.01,360.71 770.11,360.62 772.2,360.52 774.29,360.42 776.39,360.3 778.48,360.12 780.58,359.91 782.67,359.65 784.76,359.36 786.83,359.04 788.9,358.7 790.95,358.33 793,357.88 795.06,357.36 797.1,356.77 799.12,356.12 801.11,355.43 803.06,354.7 804.97,353.92 806.85,353.03 808.7,352.02 810.52,350.93 812.31,349.77 814.05,348.56 815.75,347.33 817.41,346.08 819.03,344.76 820.63,343.38 822.19,341.94 823.71,340.46 825.17,338.95 826.59,337.42 827.92,335.82 829.18,334.15 830.4,332.43 831.61,330.7 832.85,328.99 834.14,327.33 835.52,325.74 836.95,324.2 838.41,322.66 839.85,321.12 841.22,319.54 842.48,317.89 843.63,316.16 844.71,314.36 845.75,312.52 847.46,309.45 849.22,306.42 850.98,303.39 852.73,300.37 854.49,297.34 856.27,294.32 858.05,291.3 859.78,288.26 861.42,285.18 862.96,282.04 864.45,278.87 865.91,275.69 867.39,272.51 868.84,269.33 870.25,266.12 871.59,262.89 872.88,259.64 873.76,257.4 874.63,255.17 875.52,252.94 876.44,250.72 877.38,248.51 878.31,246.29 879.23,244.08 880.12,241.85 880.94,239.6 881.71,237.33 882.45,235.04 883.16,232.75 883.86,230.45 884.57,228.16 885.29,225.87 885.98,223.57 886.65,221.26 887.28,218.95 887.87,216.62 888.43,214.29 889.79,208.44 891.08,202.59 892.33,196.72 893.63,190.86 894.94,185 896.23,179.14 897.5,173.28 898.72,167.41 899.87,161.52 900.97,155.62 902.01,149.71 903.04,143.8 904.05,137.88 905.1,131.98 906.23,126.08 907.47,120.21 908.9,114.37 910.5,111 911.9,114 912.8,129.7 913.4,150.4 914.3,169.7 914.9,184.5 915.8,194.3 917,200.9 917,200.9 918.53,203.06 920.58,204.7 923.04,205.29 925.68,205.22 928.28,204.18 930.68,202.06 933.14,200.3 935.63,198.62 938.1,196.92 940.56,195.2 944.57,192.22 948.47,189.1 952.43,186.04 956.45,183.06 960.47,180.09 964.44,177.05 968.41,174 972.34,170.91 976.21,167.75 979.99,164.48 983.68,161.11 987.34,157.7 991.04,154.34 994.78,151.02 998.54,147.72 1002.29,144.41 1006.02,141.08 1009.74,137.73 1013.45,134.38 1016.5,131.64 1019.56,128.9 1022.63,126.19 1025.73,123.51 1028.86,120.87 1032.02,118.26 1035.21,115.69 1038.42,113.14 1041.64,110.6 1044.87,108.07 1048.09,105.52 1051.29,102.97 1054.49,100.4 1057.69,97.84 1060.89,95.27 1064.09,92.71 1067.29,90.15 1070.5,87.6 1073.72,85.06 1076.94,82.52 1080.16,79.99 1083.39,77.46 1086.62,74.93 1089.85,72.41 1093.08,69.89 1096.32,67.37 1099.55,64.85 1102.79,62.33 1106.04,59.83 1109.29,57.34 1112.54,54.83 1115.78,52.32 1119.01,49.79 1122.21,47.23 1125.41,44.66 1128.59,42.08 1131.77,39.49 1134.93,36.88 1138.08,34.26 1141.23,31.63 1142.8,30.3" fill="none" stroke="#800080" stroke-width="2"/>
<g fill="url(#ball)">
<circle cx="755.4" cy="361" r="4.2"/>
<circle cx="757.51" cy="360.99" r="4.2"/>
<circle cx="759.61" cy="360.96" r="4.2"/>
<circle cx="761.71" cy="360.92" r="4.2"/>
<circle cx="763.81" cy="360.86" r="4.2"/>
<circle cx="765.91" cy="360.79" r="4.2"/>
<circle cx="768.01" cy="360.71" r="4.2"/>
<circle cx="770.11" cy="360.62" r="4.2"/>
<circle cx="772.2" cy="360.52" r="4.2"/>
<circle cx="774.29" cy="360.42" r="4.2"/>
<circle cx="776.39" cy="360.3" r="4.2"/>
<circle cx="778.48" cy="360.12" r="4.2"/>
<circle cx="780.58" cy="359.91" r="4.2"/>
<circle cx="782.67" cy="359.65" r="4.2"/>
<circle cx="784.76" cy="359.36" r="4.2"/>
<circle cx="786.83" cy="359.04" r="4.2"/>
<circle cx="788.9" cy="358.7" r="4.2"/>
<circle cx="790.95" cy="358.33" r="4.2"/>
<circle cx="793" cy="357.88" r="4.2"/>
<circle cx="795.06" cy="357.36" r="4.2"/>
<circle cx="797.1" cy="356.77" r="4.2"/>
<circle cx="799.12" cy="356.12" r="4.2"/>
<circle cx="801.11" cy="355.43" r="4.2"/>
<circle cx="803.06" cy="354.7" r="4.2"/>
<circle cx="804.97" cy="353.92" r="4.2"/>
<circle cx="806.85" cy="353.03" r="4.2"/>
<circle cx="808.7" cy="352.02" r="4.2"/>
<circle cx="810.52" cy="350.93" r="4.2"/>
<circle cx="812.31" cy="349.77" r="4.2"/>
<circle cx="814.05" cy="348.56" r="4.2"/>
<circle cx="815.75" cy="347.33" r="4.2"/>
<circle cx="817.41" cy="346.08" r="4.2"/>
<circle cx="819.03" cy="344.76" r="4.2"/>
<circle cx="820.63" cy="343.38" r="4.2"/>
<circle cx="822.19" cy="341.94" r="4.2"/>
<circle cx="823.71" cy="340.46" r="4.2"/>
<circle cx="825.17" cy="338.95" r="4.2"/>
<circle cx="826.59" cy="337.42" r="4.2"/>
<circle cx="827.92" cy="335.82" r="4.2"/>
<circle cx="829.18" cy="334.15" r="4.2"/>
<circle cx="830.4" cy="332.43" r="4.2"/>
<circle cx="831.61" cy="330.7" r="4.2"/>
<circle cx="832.85" cy="328.99" r="4.2"/>
<circle cx="834.14" cy="327.33" r="4.2"/>
<circle cx="835.52" cy="325.74" r="4.2"/>
<circle cx="836.95" cy="324.2" r="4.2"/>
<circle cx="838.41" cy="322.66" r="4.2"/>
<circle cx="839.85" cy="321.12" r="4.2"/>
<circle cx="841.22" cy="319.54" r="4.2"/>
<circle cx="842.48" cy="317.89" r="4.2"/>
<circle cx="843.63" cy="316.16" r="4.2"/>
<circle cx="844.71" cy="314.36" r="4.2"/>
<circle cx="845.75" cy="312.52" r="4.2"/>
<circle cx="847.46" cy="309.45" r="4.2"/>
<circle cx="849.22" cy="306.42" r="4.2"/>
<circle cx="850.98" cy="303.39" r="4.2"/>
<circle cx="852.73" cy="300.37" r="4.2"/>
<circle cx="854.49" cy="297.34" r="4.2"/>
<circle cx="856.27" cy="294.32" r="4.2"/>
<circle cx="858.05" cy="291.3" r="4.2"/>
<circle cx="859.78" cy="288.26" r="4.2"/>
<circle cx="861.42" cy="285.18" r="4.2"/>
<circle cx="862.96" cy="282.04" r="4.2"/>
<circle cx="864.45" cy="278.87" r="4.2"/>
<circle cx="865.91" cy="275.69" r="4.2"/>
<circle cx="867.39" cy="272.51" r="4.2"/>
<circle cx="868.84" cy="269.33" r="4.2"/>
<circle cx="870.25" cy="266.12" r="4.2"/>
<circle cx="871.59" cy="262.89" r="4.2"/>
<circle cx="872.88" cy="259.64" r="4.2"/>
<circle cx="873.76" cy="257.4" r="4.2"/>
<circle cx="874.63" cy="255.17" r="4.2"/>
<circle cx="875.52" cy="252.94" r="4.2"/>
<circle cx="876.44" cy="250.72" r="4.2"/>
<circle cx="877.38" cy="248.51" r="4.2"/>
<circle cx="878.31" cy="246.29" r="4.2"/>
<circle cx="879.23" cy="244.08" r="4.2"/>
<circle cx="880.12" cy="241.85" r="4.2"/>
<circle cx="880.94" cy="239.6" r="4.2"/>
<circle cx="881.71" cy="237.33" r="4.2"/>
<circle cx="882.45" cy="235.04" r="4.2"/>
<circle cx="883.16" cy="232.75" r="4.2"/>
<circle cx="883.86" cy="230.45" r="4.2"/>
<circle cx="884.57" cy="228.16" r="4.2"/>
<circle cx="885.29" cy="225.87" r="4.2"/>
<circle cx="885.98" cy="223.57" r="4.2"/>
<circle cx="886.65" cy="221.26" r="4.2"/>
<circle cx="887.28" cy="218.95" r="4.2"/>
<circle cx="887.87" cy="216.62" r="4.2"/>
<circle cx="888.43" cy="214.29" r="4.2"/>
<circle cx="889.79" cy="208.44" r="4.2"/>
<circle cx="891.08" cy="202.59" r="4.2"/>
<circle cx="892.33" cy="196.72" r="4.2"/>
<circle cx="893.63" cy="190.86" r="4.2"/>
<circle cx="894.94" cy="185" r="4.2"/>
<circle cx="896.23" cy="179.14" r="4.2"/>
<circle cx="897.5" cy="173.28" r="4.2"/>
<circle cx="898.72" cy="167.41" r="4.2"/>
<circle cx="899.87" cy="161.52" r="4.2"/>
<circle cx="900.97" cy="155.62" r="4.2"/>
<circle cx="902.01" cy="149.71" r="4.2"/>
<circle cx="903.04" cy="143.8" r="4.2"/>
<circle cx="904.05" cy="137.88" r="4.2"/>
<circle cx="905.1" cy="131.98" r="4.2"/>
<circle cx="906.23" cy="126.08" r="4.2"/>
<circle cx="907.47" cy="120.21" r="4.2"/>
<circle cx="908.9" cy="114.37" r="4.2"/>
<circle cx="910.5" cy="111" r="4.2"/>
<circle cx="911.9" cy="114" r="4.2"/>
<circle cx="912.8" cy="129.7" r="4.2"/>
<circle cx="913.4" cy="150.4" r="4.2"/>
<circle cx="914.3" cy="169.7" r="4.2"/>
<circle cx="914.9" cy="184.5" r="4.2"/>
<circle cx="915.8" cy="194.3" r="4.2"/>
<circle cx="917" cy="200.9" r="4.2"/>
<circle cx="917" cy="200.9" r="4.2"/>
<circle cx="918.53" cy="203.06" r="4.2"/>
<circle cx="920.58" cy="204.7" r="4.2"/>
<circle cx="923.04" cy="205.29" r="4.2"/>
<circle cx="925.68" cy="205.22" r="4.2"/>
<circle cx="928.28" cy="204.18" r="4.2"/>
<circle cx="930.68" cy="202.06" r="4.2"/>
<circle cx="933.14" cy="200.3" r="4.2"/>
<circle cx="935.63" cy="198.62" r="4.2"/>
<circle cx="938.1" cy="196.92" r="4.2"/>
<circle cx="940.56" cy="195.2" r="4.2"/>
<circle cx="944.57" cy="192.22" r="4.2"/>
<circle cx="948.47" cy="189.1" r="4.2"/>
<circle cx="952.43" cy="186.04" r="4.2"/>
<circle cx="956.45" cy="183.06" r="4.2"/>
<circle cx="960.47" cy="180.09" r="4.2"/>
<circle cx="964.44" cy="177.05" r="4.2"/>
<circle cx="968.41" cy="174" r="4.2"/>
<circle cx="972.34" cy="170.91" r="4.2"/>
<circle cx="976.21" cy="167.75" r="4.2"/>
<circle cx="979.99" cy="164.48" r="4.2"/>
<circle cx="983.68" cy="161.11" r="4.2"/>
<circle cx="987.34" cy="157.7" r="4.2"/>
<circle cx="991.04" cy="154.34" r="4.2"/>
<circle cx="994.78" cy="151.02" r="4.2"/>
<circle cx="998.54" cy="147.72" r="4.2"/>
<circle cx="1002.29" cy="144.41" r="4.2"/>
<circle cx="1006.02" cy="141.08" r="4.2"/>
<circle cx="1009.74" cy="137.73" r="4.2"/>
<circle cx="1013.45" cy="134.38" r="4.2"/>
<circle cx="1016.5" cy="131.64" r="4.2"/>
<circle cx="1019.56" cy="128.9" r="4.2"/>
<circle cx="1022.63" cy="126.19" r="4.2"/>
<circle cx="1025.73" cy="123.51" r="4.2"/>
<circle cx="1028.86" cy="120.87" r="4.2"/>
<circle cx="1032.02" cy="118.26" r="4.2"/>
<circle cx="1035.21" cy="115.69" r="4.2"/>
<circle cx="1038.42" cy="113.14" r="4.2"/>
<circle cx="1041.64" cy="110.6" r="4.2"/>
<circle cx="1044.87" cy="108.07" r="4.2"/>
<circle cx="1048.09" cy="105.52" r="4.2"/>
<circle cx="1051.29" cy="102.97" r="4.2"/>
<circle cx="1054.49" cy="100.4" r="4.2"/>
<circle cx="1057.69" cy="97.84" r="4.2"/>
<circle cx="1060.89" cy="95.27" r="4.2"/>
<circle cx="1064.09" cy="92.71" r="4.2"/>
<circle cx="1067.29" cy="90.15" r="4.2"/>
<circle cx="1070.5" cy="87.6" r="4.2"/>
<circle cx="1073.72" cy="85.06" r="4.2"/>
<circle cx="1076.94" cy="82.52" r="4.2"/>
<circle cx="1080.16" cy="79.99" r="4.2"/>
<circle cx="1083.39" cy="77.46" r="4.2"/>
<circle cx="1086.62" cy="74.93" r="4.2"/>
<circle cx="1089.85" cy="72.41" r="4.2"/>
<circle cx="1093.08" cy="69.89" r="4.2"/>
<circle cx="1096.32" cy="67.37" r="4.2"/>
<circle cx="1099.55" cy="64.85" r="4.2"/>
<circle cx="1102.79" cy="62.33" r="4.2"/>
<circle cx="1106.04" cy="59.83" r="4.2"/>
<circle cx="1109.29" cy="57.34" r="4.2"/>
<circle cx="1112.54" cy="54.83" r="4.2"/>
<circle cx="1115.78" cy="52.32" r="4.2"/>
<circle cx="1119.01" cy="49.79" r="4.2"/>
<circle cx="1122.21" cy="47.23" r="4.2"/>
<circle cx="1125.41" cy="44.66" r="4.2"/>
<circle cx="1128.59" cy="42.08" r="4.2"/>
<circle cx="1131.77" cy="39.49" r="4.2"/>
<circle cx="1134.93" cy="36.88" r="4.2"/>
<circle cx="1138.08" cy="34.26" r="4.2"/>
<circle cx="1141.23" cy="31.63" r="4.2"/>
<circle cx="1142.8" cy="30.3" r="4.2"/>
</g>
<g fill="#fff" fill-opacity="0.92">
<ellipse cx="754.1" cy="359.5" rx="0.6" ry="1.05"/>
<ellipse cx="756.21" cy="359.49" rx="0.6" ry="1.05"/>
<ellipse cx="758.31" cy="359.46" rx="0.6" ry="1.05"/>
<ellipse cx="760.41" cy="359.42" rx="0.6" ry="1.05"/>
<ellipse cx="762.51" cy="359.36" rx="0.6" ry="1.05"/>
<ellipse cx="764.61" cy="359.29" rx="0.6" ry="1.05"/>
<ellipse cx="766.71" cy="359.21" rx="0.6" ry="1.05"/>
<ellipse cx="768.81" cy="359.12" rx="0.6" ry="1.05"/>
<ellipse cx="770.9" cy="359.02" rx="0.6" ry="1.05"/>
<ellipse cx="772.99" cy="358.92" rx="0.6" ry="1.05"/>
<ellipse cx="775.09" cy="358.8" rx="0.6" ry="1.05"/>
<ellipse cx="777.18" cy="358.62" rx="0.6" ry="1.05"/>
<ellipse cx="779.28" cy="358.41" rx="0.6" ry="1.05"/>
<ellipse cx="781.37" cy="358.15" rx="0.6" ry="1.05"/>
<ellipse cx="783.46" cy="357.86" rx="0.6" ry="1.05"/>
<ellipse cx="785.53" cy="357.54" rx="0.6" ry="1.05"/>
<ellipse cx="787.6" cy="357.2" rx="0.6" ry="1.05"/>
<ellipse cx="789.65" cy="356.83" rx="0.6" ry="1.05"/>
<ellipse cx="791.7" cy="356.38" rx="0.6" ry="1.05"/>
<ellipse cx="793.76" cy="355.86" rx="0.6" ry="1.05"/>
<ellipse cx="795.8" cy="355.27" rx="0.6" ry="1.05"/>
<ellipse cx="797.82" cy="354.62" rx="0.6" ry="1.05"/>
<ellipse cx="799.81" cy="353.93" rx="0.6" ry="1.05"/>
<ellipse cx="801.76" cy="353.2" rx="0.6" ry="1.05"/>
<ellipse cx="803.67" cy="352.42" rx="0.6" ry="1.05"/>
<ellipse cx="805.55" cy="351.53" rx="0.6" ry="1.05"/>
<ellipse cx="807.4" cy="350.52" rx="0.6" ry="1.05"/>
<ellipse cx="809.22" cy="349.43" rx="0.6" ry="1.05"/>
<ellipse cx="811.01" cy="348.27" rx="0.6" ry="1.05"/>
<ellipse cx="812.75" cy="347.06" rx="0.6" ry="1.05"/>
<ellipse cx="814.45" cy="345.83" rx="0.6" ry="1.05"/>
<ellipse cx="816.11" cy="344.58" rx="0.6" ry="1.05"/>
<ellipse cx="817.73" cy="343.26" rx="0.6" ry="1.05"/>
<ellipse cx="819.33" cy="341.88" rx="0.6" ry="1.05"/>
<ellipse cx="820.89" cy="340.44" rx="0.6" ry="1.05"/>
<ellipse cx="822.41" cy="338.96" rx="0.6" ry="1.05"/>
<ellipse cx="823.87" cy="337.45" rx="0.6" ry="1.05"/>
<ellipse cx="825.29" cy="335.92" rx="0.6" ry="1.05"/>
<ellipse cx="826.62" cy="334.32" rx="0.6" ry="1.05"/>
<ellipse cx="827.88" cy="332.65" rx="0.6" ry="1.05"/>
<ellipse cx="829.1" cy="330.93" rx="0.6" ry="1.05"/>
<ellipse cx="830.31" cy="329.2" rx="0.6" ry="1.05"/>
<ellipse cx="831.55" cy="327.49" rx="0.6" ry="1.05"/>
<ellipse cx="832.84" cy="325.83" rx="0.6" ry="1.05"/>
<ellipse cx="834.22" cy="324.24" rx="0.6" ry="1.05"/>
<ellipse cx="835.65" cy="322.7" rx="0.6" ry="1.05"/>
<ellipse cx="837.11" cy="321.16" rx="0.6" ry="1.05"/>
<ellipse cx="838.55" cy="319.62" rx="0.6" ry="1.05"/>
<ellipse cx="839.92" cy="318.04" rx="0.6" ry="1.05"/>
<ellipse cx="841.18" cy="316.39" rx="0.6" ry="1.05"/>
<ellipse cx="842.33" cy="314.66" rx="0.6" ry="1.05"/>
<ellipse cx="843.41" cy="312.86" rx="0.6" ry="1.05"/>
<ellipse cx="844.45" cy="311.02" rx="0.6" ry="1.05"/>
<circle cx="846.16" cy="307.95" r="1.25"/>
<circle cx="847.92" cy="304.92" r="1.25"/>
<circle cx="849.68" cy="301.89" r="1.25"/>
<circle cx="851.43" cy="298.87" r="1.25"/>
<circle cx="853.19" cy="295.84" r="1.25"/>
<circle cx="854.97" cy="292.82" r="1.25"/>
<ellipse cx="856.75" cy="289.8" rx="0.6" ry="1.05"/>
<ellipse cx="858.48" cy="286.76" rx="0.6" ry="1.05"/>
<ellipse cx="860.12" cy="283.68" rx="0.6" ry="1.05"/>
<ellipse cx="861.66" cy="280.54" rx="0.6" ry="1.05"/>
<circle cx="863.15" cy="277.37" r="1.25"/>
<circle cx="864.61" cy="274.19" r="1.25"/>
<circle cx="866.09" cy="271.01" r="1.25"/>
<ellipse cx="867.54" cy="267.83" rx="0.6" ry="1.05"/>
<ellipse cx="868.95" cy="264.62" rx="0.6" ry="1.05"/>
<ellipse cx="870.29" cy="261.39" rx="0.6" ry="1.05"/>
<ellipse cx="871.58" cy="258.14" rx="0.6" ry="1.05"/>
<ellipse cx="872.46" cy="255.9" rx="0.6" ry="1.05"/>
<ellipse cx="873.33" cy="253.67" rx="0.6" ry="1.05"/>
<ellipse cx="874.22" cy="251.44" rx="0.6" ry="1.05"/>
<ellipse cx="875.14" cy="249.22" rx="0.6" ry="1.05"/>
<ellipse cx="876.08" cy="247.01" rx="0.6" ry="1.05"/>
<ellipse cx="877.01" cy="244.79" rx="0.6" ry="1.05"/>
<ellipse cx="877.93" cy="242.58" rx="0.6" ry="1.05"/>
<ellipse cx="878.82" cy="240.35" rx="0.6" ry="1.05"/>
<ellipse cx="879.64" cy="238.1" rx="0.6" ry="1.05"/>
<ellipse cx="880.41" cy="235.83" rx="0.6" ry="1.05"/>
<ellipse cx="881.15" cy="233.54" rx="0.6" ry="1.05"/>
<ellipse cx="881.86" cy="231.25" rx="0.6" ry="1.05"/>
<ellipse cx="882.56" cy="228.95" rx="0.6" ry="1.05"/>
<ellipse cx="883.27" cy="226.66" rx="0.6" ry="1.05"/>
<ellipse cx="883.99" cy="224.37" rx="0.6" ry="1.05"/>
<ellipse cx="884.68" cy="222.07" rx="0.6" ry="1.05"/>
<ellipse cx="885.35" cy="219.76" rx="0.6" ry="1.05"/>
<ellipse cx="885.98" cy="217.45" rx="0.6" ry="1.05"/>
<ellipse cx="886.57" cy="215.12" rx="0.6" ry="1.05"/>
<ellipse cx="887.13" cy="212.79" rx="0.6" ry="1.05"/>
<circle cx="888.49" cy="206.94" r="1.25"/>
<circle cx="889.78" cy="201.09" r="1.25"/>
<circle cx="891.03" cy="195.22" r="1.25"/>
<circle cx="892.33" cy="189.36" r="1.25"/>
<circle cx="893.64" cy="183.5" r="1.25"/>
<circle cx="894.93" cy="177.64" r="1.25"/>
<circle cx="896.2" cy="171.78" r="1.25"/>
<circle cx="897.42" cy="165.91" r="1.25"/>
<circle cx="898.57" cy="160.02" r="1.25"/>
<circle cx="899.67" cy="154.12" r="1.25"/>
<circle cx="900.71" cy="148.21" r="1.25"/>
<circle cx="901.74" cy="142.3" r="1.25"/>
<circle cx="902.75" cy="136.38" r="1.25"/>
<circle cx="903.8" cy="130.48" r="1.25"/>
<circle cx="904.93" cy="124.58" r="1.25"/>
<circle cx="906.17" cy="118.71" r="1.25"/>
<circle cx="907.6" cy="112.87" r="1.25"/>
<ellipse cx="909.2" cy="109.5" rx="0.6" ry="1.05"/>
<ellipse cx="910.6" cy="112.5" rx="0.6" ry="1.05"/>
<circle cx="911.5" cy="128.2" r="1.25"/>
<circle cx="912.1" cy="148.9" r="1.25"/>
<circle cx="913" cy="168.2" r="1.25"/>
<circle cx="913.6" cy="183" r="1.25"/>
<circle cx="914.5" cy="192.8" r="1.25"/>
<ellipse cx="915.7" cy="199.4" rx="0.6" ry="1.05"/>
<ellipse cx="915.7" cy="199.4" rx="0.6" ry="1.05"/>
<ellipse cx="917.23" cy="201.56" rx="0.6" ry="1.05"/>
<ellipse cx="919.28" cy="203.2" rx="0.6" ry="1.05"/>
<ellipse cx="921.74" cy="203.79" rx="0.6" ry="1.05"/>
<ellipse cx="924.38" cy="203.72" rx="0.6" ry="1.05"/>
<ellipse cx="926.98" cy="202.68" rx="0.6" ry="1.05"/>
<ellipse cx="929.38" cy="200.56" rx="0.6" ry="1.05"/>
<ellipse cx="931.84" cy="198.8" rx="0.6" ry="1.05"/>
<ellipse cx="934.33" cy="197.12" rx="0.6" ry="1.05"/>
<ellipse cx="936.8" cy="195.42" rx="0.6" ry="1.05"/>
<ellipse cx="939.26" cy="193.7" rx="0.6" ry="1.05"/>
<circle cx="943.27" cy="190.72" r="1.25"/>
<circle cx="947.17" cy="187.6" r="1.25"/>
<circle cx="951.13" cy="184.54" r="1.25"/>
<circle cx="955.15" cy="181.56" r="1.25"/>
<circle cx="959.17" cy="178.59" r="1.25"/>
<circle cx="963.14" cy="175.55" r="1.25"/>
<circle cx="967.11" cy="172.5" r="1.25"/>
<circle cx="971.04" cy="169.41" r="1.25"/>
<circle cx="974.91" cy="166.25" r="1.25"/>
<circle cx="978.69" cy="162.98" r="1.25"/>
<circle cx="982.38" cy="159.61" r="1.25"/>
<circle cx="986.04" cy="156.2" r="1.25"/>
<circle cx="989.74" cy="152.84" r="1.25"/>
<circle cx="993.48" cy="149.52" r="1.25"/>
<circle cx="997.24" cy="146.22" r="1.25"/>
<circle cx="1000.99" cy="142.91" r="1.25"/>
<circle cx="1004.72" cy="139.58" r="1.25"/>
<circle cx="1008.44" cy="136.23" r="1.25"/>
<circle cx="1012.15" cy="132.88" r="1.25"/>
<circle cx="1015.2" cy="130.14" r="1.25"/>
<circle cx="1018.26" cy="127.4" r="1.25"/>
<circle cx="1021.33" cy="124.69" r="1.25"/>
<circle cx="1024.43" cy="122.01" r="1.25"/>
<circle cx="1027.56" cy="119.37" r="1.25"/>
<circle cx="1030.72" cy="116.76" r="1.25"/>
<circle cx="1033.91" cy="114.19" r="1.25"/>
<circle cx="1037.12" cy="111.64" r="1.25"/>
<circle cx="1040.34" cy="109.1" r="1.25"/>
<circle cx="1043.57" cy="106.57" r="1.25"/>
<circle cx="1046.79" cy="104.02" r="1.25"/>
<circle cx="1049.99" cy="101.47" r="1.25"/>
<circle cx="1053.19" cy="98.9" r="1.25"/>
<circle cx="1056.39" cy="96.34" r="1.25"/>
<circle cx="1059.59" cy="93.77" r="1.25"/>
<circle cx="1062.79" cy="91.21" r="1.25"/>
<circle cx="1065.99" cy="88.65" r="1.25"/>
<circle cx="1069.2" cy="86.1" r="1.25"/>
<circle cx="1072.42" cy="83.56" r="1.25"/>
<circle cx="1075.64" cy="81.02" r="1.25"/>
<circle cx="1078.86" cy="78.49" r="1.25"/>
<circle cx="1082.09" cy="75.96" r="1.25"/>
<circle cx="1085.32" cy="73.43" r="1.25"/>
<circle cx="1088.55" cy="70.91" r="1.25"/>
<circle cx="1091.78" cy="68.39" r="1.25"/>
<circle cx="1095.02" cy="65.87" r="1.25"/>
<circle cx="1098.25" cy="63.35" r="1.25"/>
<circle cx="1101.49" cy="60.83" r="1.25"/>
<circle cx="1104.74" cy="58.33" r="1.25"/>
<circle cx="1107.99" cy="55.84" r="1.25"/>
<circle cx="1111.24" cy="53.33" r="1.25"/>
<circle cx="1114.48" cy="50.82" r="1.25"/>
<circle cx="1117.71" cy="48.29" r="1.25"/>
<circle cx="1120.91" cy="45.73" r="1.25"/>
<circle cx="1124.11" cy="43.16" r="1.25"/>
<circle cx="1127.29" cy="40.58" r="1.25"/>
<circle cx="1130.47" cy="37.99" r="1.25"/>
<circle cx="1133.63" cy="35.38" r="1.25"/>
<circle cx="1136.78" cy="32.76" r="1.25"/>
<ellipse cx="1139.93" cy="30.13" rx="0.6" ry="1.05"/>
<ellipse cx="1141.5" cy="28.8" rx="0.6" ry="1.05"/>
</g>
<polyline points="755.4,361.6 757.14,361.54 758.87,361.46 760.6,361.36 762.34,361.26 764.07,361.14 765.8,361.02 767.53,360.88 769.25,360.74 770.98,360.59 772.7,360.44 774.43,360.27 776.16,360.09 777.9,359.89 779.63,359.68 781.35,359.45 783.08,359.2 784.79,358.93 786.5,358.65 788.19,358.35 789.88,358.03 791.56,357.67 793.26,357.27 794.96,356.83 796.65,356.35 798.34,355.83 800.03,355.29 801.7,354.7 803.35,354.09 804.98,353.45 806.59,352.78 808.17,352.09 809.71,351.38 811.22,350.64 812.69,349.87 814.13,349 815.53,348.05 816.91,347.02 818.26,345.93 819.6,344.8 820.92,343.62 822.23,342.43 823.54,341.22 824.84,340.02 826.14,338.83 827.45,337.66 828.76,336.53 830.07,335.4 831.38,334.26 832.68,333.11 833.97,331.96 835.26,330.8 836.55,329.63 837.83,328.46 839.11,327.29 840.39,326.12 841.66,324.94 842.94,323.76 844.21,322.58 845.48,321.4 846.75,320.22 848.02,319.04 849.3,317.86 850.57,316.69 851.85,315.51 853.13,314.33 854.4,313.16 855.68,311.98 856.95,310.8 858.22,309.61 859.48,308.42 860.73,307.22 861.97,306.01 863.21,304.8 864.43,303.57 865.65,302.34 866.85,301.1 868.05,299.85 869.25,298.6 870.44,297.34 871.62,296.07 872.8,294.8 873.97,293.52 875.14,292.24 876.3,290.96 877.46,289.67 878.62,288.38 879.77,287.08 880.93,285.78 882.07,284.48 883.22,283.17 884.36,281.87 885.5,280.56 886.64,279.24 887.78,277.93 888.91,276.62 890.05,275.3 891.19,273.99 892.32,272.68 893.45,271.36 894.59,270.05 895.72,268.73 896.86,267.42 898,266.11 899.14,264.8 900.27,263.5 901.41,262.19 902.55,260.87 903.68,259.56 904.81,258.24 905.94,256.93 907.06,255.61 908.19,254.29 909.31,252.97 910.43,251.65 911.55,250.32 912.67,249 913.79,247.67 914.91,246.35 916.03,245.02 917.15,243.69 918.26,242.37 919.38,241.04 920.5,239.71 921.61,238.38 922.73,237.06 923.85,235.73 924.96,234.4 926.08,233.07 927.2,231.75 928.32,230.42 929.44,229.1 930.56,227.78 931.68,226.45 932.81,225.13 933.93,223.81 935.06,222.49 936.19,221.18 937.32,219.86 938.45,218.55 939.58,217.23 940.72,215.92 941.85,214.61 942.99,213.3 944.13,211.99 945.26,210.68 946.4,209.37 947.54,208.06 948.68,206.76 949.82,205.45 950.96,204.14 952.1,202.83 953.24,201.53 954.38,200.22 955.52,198.92 956.67,197.61 957.81,196.3 958.95,195 960.09,193.69 961.23,192.39 962.37,191.08 963.52,189.77 964.66,188.47 965.8,187.16 966.94,185.85 968.08,184.55 969.22,183.24 970.35,181.93 971.49,180.62 972.62,179.3 973.75,177.98 974.88,176.67 976.01,175.35 977.13,174.03 978.26,172.71 979.39,171.39 980.52,170.07 981.64,168.75 982.77,167.44 983.9,166.12 985.04,164.81 986.17,163.49 987.31,162.19 988.45,160.88 989.59,159.58 990.74,158.28 991.89,156.98 993.05,155.69 994.21,154.4 995.38,153.12 996.55,151.84 997.72,150.57 998.9,149.29 1000.08,148.02 1001.27,146.75 1002.46,145.49 1003.65,144.23 1004.85,142.97 1006.06,141.73 1007.27,140.49 1008.49,139.25 1009.72,138.03 1010.96,136.82 1012.2,135.61 1013.45,134.42 1014.71,133.23 1015.97,132.04 1017.24,130.87 1018.52,129.69 1019.8,128.53 1021.09,127.36 1022.38,126.2 1023.68,125.05 1024.98,123.9 1026.28,122.76 1027.59,121.61 1028.9,120.48 1030.22,119.34 1031.54,118.21 1032.86,117.08 1034.18,115.95 1035.5,114.83 1036.83,113.71 1038.15,112.59 1039.48,111.47 1040.8,110.35 1042.13,109.23 1043.46,108.12 1044.79,107.01 1046.12,105.9 1047.46,104.8 1048.81,103.7 1050.16,102.61 1051.51,101.53 1052.86,100.44 1054.22,99.36 1055.57,98.28 1056.93,97.2 1058.29,96.12 1059.65,95.04 1061,93.95 1062.36,92.87 1063.71,91.78 1065.05,90.69 1066.4,89.59 1067.74,88.49 1069.07,87.38 1070.4,86.26 1071.73,85.14 1073.05,84.02 1074.37,82.89 1075.7,81.77 1077.02,80.64 1078.34,79.52 1079.67,78.4 1080.99,77.28 1082.33,76.16 1083.66,75.06 1085,73.96 1086.35,72.87 1087.7,71.79 1089.06,70.72 1090.43,69.66 1091.81,68.61 1093.2,67.58 1094.6,66.56 1096.01,65.56 1097.43,64.56 1098.85,63.57 1100.28,62.58 1101.71,61.61 1103.15,60.63 1104.59,59.67 1106.03,58.7 1107.47,57.73 1108.92,56.76 1110.36,55.79 1111.79,54.82 1113.23,53.84 1114.66,52.85 1116.08,51.86 1117.5,50.86 1118.91,49.85 1120.31,48.84 1121.72,47.82 1123.12,46.81 1124.53,45.79 1125.93,44.76 1127.33,43.74 1128.72,42.71 1130.12,41.68 1131.51,40.65 1132.9,39.61 1134.29,38.57 1135.68,37.53 1137.07,36.49 1138.45,35.45 1139.84,34.4 1141.22,33.35 1142.6,32.3" fill="none" stroke="#f00" stroke-width="3"/>
<line x1="748" y1="70.6" x2="812" y2="70.6" stroke="#800080" stroke-width="2.4" stroke-linecap="round"/>
<circle cx="779.7" cy="70.6" r="3.9" fill="url(#ball)"/>
<g fill="#fff" fill-opacity="0.92">
<circle cx="778.4" cy="69.5" r="1.25"/>
</g>
<line x1="748" y1="111.4" x2="812" y2="111.4" stroke="#f00" stroke-width="2.4" stroke-linecap="round"/>
<g font-family="'Liberation Serif', 'Times New Roman', serif" font-weight="bold" fill="#000" font-size="29.5">
<text x="817.3" y="80.5">C<tspan font-size="19.5" dy="6.5">p</tspan></text>
<text x="817.3" y="121">C<tspan font-size="19.5" dy="6.5">ph</tspan></text>
<text x="911" y="79" font-size="20"><tspan font-style="italic">T</tspan><tspan font-size="14" dy="5">N</tspan><tspan dy="-5"> = 41.5 K</tspan></text>
</g>
<g font-family="'Liberation Serif', 'Times New Roman', serif" font-weight="bold" fill="#000" font-size="32">
<text x="944.4" y="462.8" text-anchor="middle" font-size="33"><tspan font-style="italic">T</tspan> (K)</text>
<text transform="translate(635 191.5) rotate(-90)" text-anchor="middle" font-size="33.5"><tspan font-style="italic">C<tspan font-size="21" dy="6">p</tspan></tspan><tspan dy="-6"> (J. mol</tspan><tspan font-size="21" dy="-11">-1</tspan><tspan dy="11">. K</tspan><tspan font-size="21" dy="-11">-1</tspan><tspan dy="11">)</tspan></text>
</g>
<g font-family="'Liberation Serif', 'Times New Roman', serif" font-weight="bold" fill="#000">
<path d="M1332.62 393V386M1332.62 12.8V19.8M1411.85 393V386M1411.85 12.8V19.8M1491.08 393V386M1491.08 12.8V19.8M1570.32 393V386M1570.32 12.8V19.8M1649.55 393V386M1649.55 12.8V19.8M1728.78 393V386M1728.78 12.8V19.8M1372.23 393V389.4M1372.23 12.8V16.4M1451.47 393V389.4M1451.47 12.8V16.4M1530.7 393V389.4M1530.7 12.8V16.4M1609.93 393V389.4M1609.93 12.8V16.4M1689.17 393V389.4M1689.17 12.8V16.4M1293 393H1300M1768.4 393H1761.4M1293 338.69H1300M1768.4 338.69H1761.4M1293 284.37H1300M1768.4 284.37H1761.4M1293 230.06H1300M1768.4 230.06H1761.4M1293 175.74H1300M1768.4 175.74H1761.4M1293 121.43H1300M1768.4 121.43H1761.4M1293 67.11H1300M1768.4 67.11H1761.4M1293 12.8H1300M1768.4 12.8H1761.4M1293 365.84H1296.6M1768.4 365.84H1764.8M1293 311.53H1296.6M1768.4 311.53H1764.8M1293 257.21H1296.6M1768.4 257.21H1764.8M1293 202.9H1296.6M1768.4 202.9H1764.8M1293 148.59H1296.6M1768.4 148.59H1764.8M1293 94.27H1296.6M1768.4 94.27H1764.8M1293 39.96H1296.6M1768.4 39.96H1764.8" stroke="#000" stroke-width="2.6" fill="none"/>
<rect x="1293" y="12.8" width="475.4" height="380.2" stroke="#000" stroke-width="2.6" fill="none"/>
<text x="1332.62" y="423.2" font-size="29" text-anchor="middle">0</text>
<text x="1411.85" y="423.2" font-size="29" text-anchor="middle">20</text>
<text x="1491.08" y="423.2" font-size="29" text-anchor="middle">40</text>
<text x="1570.32" y="423.2" font-size="29" text-anchor="middle">60</text>
<text x="1649.55" y="423.2" font-size="29" text-anchor="middle">80</text>
<text x="1728.78" y="423.2" font-size="29" text-anchor="middle">100</text>
<text x="1284.5" y="402.8" font-size="29" text-anchor="end">-0.2</text>
<text x="1284.5" y="348.49" font-size="29" text-anchor="end">0.0</text>
<text x="1284.5" y="294.17" font-size="29" text-anchor="end">0.2</text>
<text x="1284.5" y="239.86" font-size="29" text-anchor="end">0.4</text>
<text x="1284.5" y="185.54" font-size="29" text-anchor="end">0.6</text>
<text x="1284.5" y="131.23" font-size="29" text-anchor="end">0.8</text>
<text x="1284.5" y="76.91" font-size="29" text-anchor="end">1.0</text>
<text x="1284.5" y="22.6" font-size="29" text-anchor="end">1.2</text>
</g>
<polyline points="1342.1,286.7 1344.2,300.8 1345.7,308.9 1348.1,314.1 1349.8,324.5 1350.97,326.97 1352.33,328.27 1353.88,332.17 1355.65,333.46 1357.64,335.86 1359.92,337.92 1362.41,338.08 1364.95,338.87 1367.55,338.46 1370.22,339.42 1372.91,340.4 1375.58,341.23 1378.26,341.91 1380.94,341.23 1383.63,340.73 1386.32,341.45 1389.03,343.12 1391.74,341.57 1394.41,342.18 1397.07,341.87 1399.67,341.02 1402.17,340.07 1404.62,338.87 1406.98,337.48 1409.21,335.99 1411.3,334.36 1413.29,332.53 1415.21,330.58 1417.08,328.59 1418.93,326.62 1420.77,324.64 1422.78,322.39 1424.72,320.09 1426.55,317.72 1428.28,315.3 1429.97,312.8 1431.61,310.25 1433.15,307.65 1434.58,305.01 1435.85,302.32 1436.94,299.57 1437.9,296.73 1438.78,293.85 1439.64,290.96 1440.55,288.08 1441.57,285.26 1442.7,282.49 1443.9,279.74 1445.15,277.01 1446.41,274.28 1447.64,271.54 1448.84,268.79 1450.05,266.04 1451.25,263.29 1452.42,260.53 1453.55,257.75 1454.83,254.39 1456.08,251.02 1457.29,247.62 1458.47,244.22 1459.62,240.8 1460.73,237.38 1461.8,233.95 1462.83,230.5 1463.85,227.04 1464.85,223.59 1465.86,220.13 1466.9,216.68 1467.98,213.24 1469.06,209.81 1470.4,205.4 1471.64,200.98 1472.76,196.53 1473.81,192.05 1474.81,187.56 1475.77,183.06 1476.7,178.55 1477.61,174.04 1478.52,169.53 1479.78,163.15 1481.02,156.77 1482.2,150.37 1483.33,143.97 1484.39,137.56 1485.38,131.14 1486.31,124.7 1487.46,115.78 1489.05,106.92 1489.78,97.95 1490.63,88.99 1491.66,80.05 1492.68,71.11 1493.26,62.13 1493.91,53.14 1495.6,45.3 1496.5,48 1497.7,61.8 1498.8,94.7 1499.4,138.6 1500.6,181 1501.5,213.8 1502.2,237.9 1503.1,251 1504.3,259.3 1504.74,261.66 1505.2,264.02 1505.68,266.37 1506.18,268.72 1506.69,271.06 1507.2,273.41 1507.71,275.78 1508.24,278.13 1508.83,280.46 1509.51,282.73 1510.31,284.97 1511.26,287.2 1512.33,289.4 1513.51,291.53 1514.77,293.57 1516.1,295.48 1517.61,297.29 1519.29,299.02 1521.06,300.69 1522.88,302.32 1524.66,303.94 1526.46,305.53 1528.91,307.58 1531.4,309.6 1533.91,311.59 1536.41,313.63 1538.92,315.67 1541.48,317.61 1544.12,319.37 1546.87,320.88 1549.74,322.22 1552.69,323.46 1555.7,324.63 1558.72,325.76 1561.74,326.9 1565.45,328.4 1569.16,329.96 1572.87,331.48 1576.62,332.86 1580.43,334.01 1584.31,334.92 1588.24,335.7 1592.17,336.49 1596.07,337.42 1599.97,338.42 1603.88,339.21 1607.83,339.62 1611.8,339.96 1615.79,340.25 1619.8,340.49 1623.81,340.67 1627.82,340.78 1631.82,340.8 1635.81,340.77 1639.81,340.69 1643.81,340.6 1647.81,340.48 1651.81,340.35 1655.81,340.22 1659.81,340.07 1663.8,339.88 1667.8,339.66 1671.79,339.44 1675.78,339.21 1679.78,338.99 1683.77,338.8 1687.77,338.61 1691.77,338.42 1695.76,338.23 1699.76,338.06 1703.76,337.91 1707.75,337.78 1711.75,337.67 1715.75,337.56 1719.75,337.46 1723.75,337.38 1727.75,337.31 1728.7,337.3" fill="none" stroke="#800080" stroke-width="2"/>
<g fill="url(#ball)">
<circle cx="1342.1" cy="286.7" r="4.4"/>
<circle cx="1344.2" cy="300.8" r="4.4"/>
<circle cx="1345.7" cy="308.9" r="4.4"/>
<circle cx="1348.1" cy="314.1" r="4.4"/>
<circle cx="1349.8" cy="324.5" r="4.4"/>
<circle cx="1350.97" cy="326.97" r="4.4"/>
<circle cx="1352.33" cy="328.27" r="4.4"/>
<circle cx="1353.88" cy="332.17" r="4.4"/>
<circle cx="1355.65" cy="333.46" r="4.4"/>
<circle cx="1357.64" cy="335.86" r="4.4"/>
<circle cx="1359.92" cy="337.92" r="4.4"/>
<circle cx="1362.41" cy="338.08" r="4.4"/>
<circle cx="1364.95" cy="338.87" r="4.4"/>
<circle cx="1367.55" cy="338.46" r="4.4"/>
<circle cx="1370.22" cy="339.42" r="4.4"/>
<circle cx="1372.91" cy="340.4" r="4.4"/>
<circle cx="1375.58" cy="341.23" r="4.4"/>
<circle cx="1378.26" cy="341.91" r="4.4"/>
<circle cx="1380.94" cy="341.23" r="4.4"/>
<circle cx="1383.63" cy="340.73" r="4.4"/>
<circle cx="1386.32" cy="341.45" r="4.4"/>
<circle cx="1389.03" cy="343.12" r="4.4"/>
<circle cx="1391.74" cy="341.57" r="4.4"/>
<circle cx="1394.41" cy="342.18" r="4.4"/>
<circle cx="1397.07" cy="341.87" r="4.4"/>
<circle cx="1399.67" cy="341.02" r="4.4"/>
<circle cx="1402.17" cy="340.07" r="4.4"/>
<circle cx="1404.62" cy="338.87" r="4.4"/>
<circle cx="1406.98" cy="337.48" r="4.4"/>
<circle cx="1409.21" cy="335.99" r="4.4"/>
<circle cx="1411.3" cy="334.36" r="4.4"/>
<circle cx="1413.29" cy="332.53" r="4.4"/>
<circle cx="1415.21" cy="330.58" r="4.4"/>
<circle cx="1417.08" cy="328.59" r="4.4"/>
<circle cx="1418.93" cy="326.62" r="4.4"/>
<circle cx="1420.77" cy="324.64" r="4.4"/>
<circle cx="1422.78" cy="322.39" r="4.4"/>
<circle cx="1424.72" cy="320.09" r="4.4"/>
<circle cx="1426.55" cy="317.72" r="4.4"/>
<circle cx="1428.28" cy="315.3" r="4.4"/>
<circle cx="1429.97" cy="312.8" r="4.4"/>
<circle cx="1431.61" cy="310.25" r="4.4"/>
<circle cx="1433.15" cy="307.65" r="4.4"/>
<circle cx="1434.58" cy="305.01" r="4.4"/>
<circle cx="1435.85" cy="302.32" r="4.4"/>
<circle cx="1436.94" cy="299.57" r="4.4"/>
<circle cx="1437.9" cy="296.73" r="4.4"/>
<circle cx="1438.78" cy="293.85" r="4.4"/>
<circle cx="1439.64" cy="290.96" r="4.4"/>
<circle cx="1440.55" cy="288.08" r="4.4"/>
<circle cx="1441.57" cy="285.26" r="4.4"/>
<circle cx="1442.7" cy="282.49" r="4.4"/>
<circle cx="1443.9" cy="279.74" r="4.4"/>
<circle cx="1445.15" cy="277.01" r="4.4"/>
<circle cx="1446.41" cy="274.28" r="4.4"/>
<circle cx="1447.64" cy="271.54" r="4.4"/>
<circle cx="1448.84" cy="268.79" r="4.4"/>
<circle cx="1450.05" cy="266.04" r="4.4"/>
<circle cx="1451.25" cy="263.29" r="4.4"/>
<circle cx="1452.42" cy="260.53" r="4.4"/>
<circle cx="1453.55" cy="257.75" r="4.4"/>
<circle cx="1454.83" cy="254.39" r="4.4"/>
<circle cx="1456.08" cy="251.02" r="4.4"/>
<circle cx="1457.29" cy="247.62" r="4.4"/>
<circle cx="1458.47" cy="244.22" r="4.4"/>
<circle cx="1459.62" cy="240.8" r="4.4"/>
<circle cx="1460.73" cy="237.38" r="4.4"/>
<circle cx="1461.8" cy="233.95" r="4.4"/>
<circle cx="1462.83" cy="230.5" r="4.4"/>
<circle cx="1463.85" cy="227.04" r="4.4"/>
<circle cx="1464.85" cy="223.59" r="4.4"/>
<circle cx="1465.86" cy="220.13" r="4.4"/>
<circle cx="1466.9" cy="216.68" r="4.4"/>
<circle cx="1467.98" cy="213.24" r="4.4"/>
<circle cx="1469.06" cy="209.81" r="4.4"/>
<circle cx="1470.4" cy="205.4" r="4.4"/>
<circle cx="1471.64" cy="200.98" r="4.4"/>
<circle cx="1472.76" cy="196.53" r="4.4"/>
<circle cx="1473.81" cy="192.05" r="4.4"/>
<circle cx="1474.81" cy="187.56" r="4.4"/>
<circle cx="1475.77" cy="183.06" r="4.4"/>
<circle cx="1476.7" cy="178.55" r="4.4"/>
<circle cx="1477.61" cy="174.04" r="4.4"/>
<circle cx="1478.52" cy="169.53" r="4.4"/>
<circle cx="1479.78" cy="163.15" r="4.4"/>
<circle cx="1481.02" cy="156.77" r="4.4"/>
<circle cx="1482.2" cy="150.37" r="4.4"/>
<circle cx="1483.33" cy="143.97" r="4.4"/>
<circle cx="1484.39" cy="137.56" r="4.4"/>
<circle cx="1485.38" cy="131.14" r="4.4"/>
<circle cx="1486.31" cy="124.7" r="4.4"/>
<circle cx="1487.46" cy="115.78" r="4.4"/>
<circle cx="1489.05" cy="106.92" r="4.4"/>
<circle cx="1489.78" cy="97.95" r="4.4"/>
<circle cx="1490.63" cy="88.99" r="4.4"/>
<circle cx="1491.66" cy="80.05" r="4.4"/>
<circle cx="1492.68" cy="71.11" r="4.4"/>
<circle cx="1493.26" cy="62.13" r="4.4"/>
<circle cx="1493.91" cy="53.14" r="4.4"/>
<circle cx="1495.6" cy="45.3" r="4.4"/>
<circle cx="1496.5" cy="48" r="4.4"/>
<circle cx="1497.7" cy="61.8" r="4.4"/>
<circle cx="1498.8" cy="94.7" r="4.4"/>
<circle cx="1499.4" cy="138.6" r="4.4"/>
<circle cx="1500.6" cy="181" r="4.4"/>
<circle cx="1501.5" cy="213.8" r="4.4"/>
<circle cx="1502.2" cy="237.9" r="4.4"/>
<circle cx="1503.1" cy="251" r="4.4"/>
<circle cx="1504.3" cy="259.3" r="4.4"/>
<circle cx="1504.74" cy="261.66" r="4.4"/>
<circle cx="1505.2" cy="264.02" r="4.4"/>
<circle cx="1505.68" cy="266.37" r="4.4"/>
<circle cx="1506.18" cy="268.72" r="4.4"/>
<circle cx="1506.69" cy="271.06" r="4.4"/>
<circle cx="1507.2" cy="273.41" r="4.4"/>
<circle cx="1507.71" cy="275.78" r="4.4"/>
<circle cx="1508.24" cy="278.13" r="4.4"/>
<circle cx="1508.83" cy="280.46" r="4.4"/>
<circle cx="1509.51" cy="282.73" r="4.4"/>
<circle cx="1510.31" cy="284.97" r="4.4"/>
<circle cx="1511.26" cy="287.2" r="4.4"/>
<circle cx="1512.33" cy="289.4" r="4.4"/>
<circle cx="1513.51" cy="291.53" r="4.4"/>
<circle cx="1514.77" cy="293.57" r="4.4"/>
<circle cx="1516.1" cy="295.48" r="4.4"/>
<circle cx="1517.61" cy="297.29" r="4.4"/>
<circle cx="1519.29" cy="299.02" r="4.4"/>
<circle cx="1521.06" cy="300.69" r="4.4"/>
<circle cx="1522.88" cy="302.32" r="4.4"/>
<circle cx="1524.66" cy="303.94" r="4.4"/>
<circle cx="1526.46" cy="305.53" r="4.4"/>
<circle cx="1528.91" cy="307.58" r="4.4"/>
<circle cx="1531.4" cy="309.6" r="4.4"/>
<circle cx="1533.91" cy="311.59" r="4.4"/>
<circle cx="1536.41" cy="313.63" r="4.4"/>
<circle cx="1538.92" cy="315.67" r="4.4"/>
<circle cx="1541.48" cy="317.61" r="4.4"/>
<circle cx="1544.12" cy="319.37" r="4.4"/>
<circle cx="1546.87" cy="320.88" r="4.4"/>
<circle cx="1549.74" cy="322.22" r="4.4"/>
<circle cx="1552.69" cy="323.46" r="4.4"/>
<circle cx="1555.7" cy="324.63" r="4.4"/>
<circle cx="1558.72" cy="325.76" r="4.4"/>
<circle cx="1561.74" cy="326.9" r="4.4"/>
<circle cx="1565.45" cy="328.4" r="4.4"/>
<circle cx="1569.16" cy="329.96" r="4.4"/>
<circle cx="1572.87" cy="331.48" r="4.4"/>
<circle cx="1576.62" cy="332.86" r="4.4"/>
<circle cx="1580.43" cy="334.01" r="4.4"/>
<circle cx="1584.31" cy="334.92" r="4.4"/>
<circle cx="1588.24" cy="335.7" r="4.4"/>
<circle cx="1592.17" cy="336.49" r="4.4"/>
<circle cx="1596.07" cy="337.42" r="4.4"/>
<circle cx="1599.97" cy="338.42" r="4.4"/>
<circle cx="1603.88" cy="339.21" r="4.4"/>
<circle cx="1607.83" cy="339.62" r="4.4"/>
<circle cx="1611.8" cy="339.96" r="4.4"/>
<circle cx="1615.79" cy="340.25" r="4.4"/>
<circle cx="1619.8" cy="340.49" r="4.4"/>
<circle cx="1623.81" cy="340.67" r="4.4"/>
<circle cx="1627.82" cy="340.78" r="4.4"/>
<circle cx="1631.82" cy="340.8" r="4.4"/>
<circle cx="1635.81" cy="340.77" r="4.4"/>
<circle cx="1639.81" cy="340.69" r="4.4"/>
<circle cx="1643.81" cy="340.6" r="4.4"/>
<circle cx="1647.81" cy="340.48" r="4.4"/>
<circle cx="1651.81" cy="340.35" r="4.4"/>
<circle cx="1655.81" cy="340.22" r="4.4"/>
<circle cx="1659.81" cy="340.07" r="4.4"/>
<circle cx="1663.8" cy="339.88" r="4.4"/>
<circle cx="1667.8" cy="339.66" r="4.4"/>
<circle cx="1671.79" cy="339.44" r="4.4"/>
<circle cx="1675.78" cy="339.21" r="4.4"/>
<circle cx="1679.78" cy="338.99" r="4.4"/>
<circle cx="1683.77" cy="338.8" r="4.4"/>
<circle cx="1687.77" cy="338.61" r="4.4"/>
<circle cx="1691.77" cy="338.42" r="4.4"/>
<circle cx="1695.76" cy="338.23" r="4.4"/>
<circle cx="1699.76" cy="338.06" r="4.4"/>
<circle cx="1703.76" cy="337.91" r="4.4"/>
<circle cx="1707.75" cy="337.78" r="4.4"/>
<circle cx="1711.75" cy="337.67" r="4.4"/>
<circle cx="1715.75" cy="337.56" r="4.4"/>
<circle cx="1719.75" cy="337.46" r="4.4"/>
<circle cx="1723.75" cy="337.38" r="4.4"/>
<circle cx="1727.75" cy="337.31" r="4.4"/>
<circle cx="1728.7" cy="337.3" r="4.4"/>
</g>
<g fill="#fff" fill-opacity="0.92">
<circle cx="1340.8" cy="285.2" r="1.25"/>
<circle cx="1342.9" cy="299.3" r="1.25"/>
<circle cx="1344.4" cy="307.4" r="1.25"/>
<circle cx="1346.8" cy="312.6" r="1.25"/>
<ellipse cx="1348.5" cy="323" rx="0.6" ry="1.05"/>
<ellipse cx="1349.67" cy="325.47" rx="0.6" ry="1.05"/>
<ellipse cx="1351.03" cy="326.77" rx="0.6" ry="1.05"/>
<ellipse cx="1352.58" cy="330.67" rx="0.6" ry="1.05"/>
<ellipse cx="1354.35" cy="331.96" rx="0.6" ry="1.05"/>
<ellipse cx="1356.34" cy="334.36" rx="0.6" ry="1.05"/>
<ellipse cx="1358.62" cy="336.42" rx="0.6" ry="1.05"/>
<ellipse cx="1361.11" cy="336.58" rx="0.6" ry="1.05"/>
<ellipse cx="1363.65" cy="337.37" rx="0.6" ry="1.05"/>
<ellipse cx="1366.25" cy="336.96" rx="0.6" ry="1.05"/>
<ellipse cx="1368.92" cy="337.92" rx="0.6" ry="1.05"/>
<ellipse cx="1371.61" cy="338.9" rx="0.6" ry="1.05"/>
<ellipse cx="1374.28" cy="339.73" rx="0.6" ry="1.05"/>
<ellipse cx="1376.96" cy="340.41" rx="0.6" ry="1.05"/>
<ellipse cx="1379.64" cy="339.73" rx="0.6" ry="1.05"/>
<ellipse cx="1382.33" cy="339.23" rx="0.6" ry="1.05"/>
<ellipse cx="1385.02" cy="339.95" rx="0.6" ry="1.05"/>
<ellipse cx="1387.73" cy="341.62" rx="0.6" ry="1.05"/>
<ellipse cx="1390.44" cy="340.07" rx="0.6" ry="1.05"/>
<ellipse cx="1393.11" cy="340.68" rx="0.6" ry="1.05"/>
<ellipse cx="1395.77" cy="340.37" rx="0.6" ry="1.05"/>
<ellipse cx="1398.37" cy="339.52" rx="0.6" ry="1.05"/>
<ellipse cx="1400.87" cy="338.57" rx="0.6" ry="1.05"/>
<ellipse cx="1403.32" cy="337.37" rx="0.6" ry="1.05"/>
<ellipse cx="1405.68" cy="335.98" rx="0.6" ry="1.05"/>
<ellipse cx="1407.91" cy="334.49" rx="0.6" ry="1.05"/>
<ellipse cx="1410" cy="332.86" rx="0.6" ry="1.05"/>
<ellipse cx="1411.99" cy="331.03" rx="0.6" ry="1.05"/>
<ellipse cx="1413.91" cy="329.08" rx="0.6" ry="1.05"/>
<ellipse cx="1415.78" cy="327.09" rx="0.6" ry="1.05"/>
<ellipse cx="1417.63" cy="325.12" rx="0.6" ry="1.05"/>
<ellipse cx="1419.47" cy="323.14" rx="0.6" ry="1.05"/>
<ellipse cx="1421.48" cy="320.89" rx="0.6" ry="1.05"/>
<ellipse cx="1423.42" cy="318.59" rx="0.6" ry="1.05"/>
<ellipse cx="1425.25" cy="316.22" rx="0.6" ry="1.05"/>
<ellipse cx="1426.98" cy="313.8" rx="0.6" ry="1.05"/>
<ellipse cx="1428.67" cy="311.3" rx="0.6" ry="1.05"/>
<ellipse cx="1430.31" cy="308.75" rx="0.6" ry="1.05"/>
<ellipse cx="1431.85" cy="306.15" rx="0.6" ry="1.05"/>
<ellipse cx="1433.28" cy="303.51" rx="0.6" ry="1.05"/>
<ellipse cx="1434.55" cy="300.82" rx="0.6" ry="1.05"/>
<ellipse cx="1435.64" cy="298.07" rx="0.6" ry="1.05"/>
<ellipse cx="1436.6" cy="295.23" rx="0.6" ry="1.05"/>
<ellipse cx="1437.48" cy="292.35" rx="0.6" ry="1.05"/>
<ellipse cx="1438.34" cy="289.46" rx="0.6" ry="1.05"/>
<ellipse cx="1439.25" cy="286.58" rx="0.6" ry="1.05"/>
<ellipse cx="1440.27" cy="283.76" rx="0.6" ry="1.05"/>
<ellipse cx="1441.4" cy="280.99" rx="0.6" ry="1.05"/>
<ellipse cx="1442.6" cy="278.24" rx="0.6" ry="1.05"/>
<ellipse cx="1443.85" cy="275.51" rx="0.6" ry="1.05"/>
<ellipse cx="1445.11" cy="272.78" rx="0.6" ry="1.05"/>
<ellipse cx="1446.34" cy="270.04" rx="0.6" ry="1.05"/>
<ellipse cx="1447.54" cy="267.29" rx="0.6" ry="1.05"/>
<ellipse cx="1448.75" cy="264.54" rx="0.6" ry="1.05"/>
<ellipse cx="1449.95" cy="261.79" rx="0.6" ry="1.05"/>
<ellipse cx="1451.12" cy="259.03" rx="0.6" ry="1.05"/>
<ellipse cx="1452.25" cy="256.25" rx="0.6" ry="1.05"/>
<circle cx="1453.53" cy="252.89" r="1.25"/>
<circle cx="1454.78" cy="249.52" r="1.25"/>
<circle cx="1455.99" cy="246.12" r="1.25"/>
<circle cx="1457.17" cy="242.72" r="1.25"/>
<circle cx="1458.32" cy="239.3" r="1.25"/>
<circle cx="1459.43" cy="235.88" r="1.25"/>
<circle cx="1460.5" cy="232.45" r="1.25"/>
<circle cx="1461.53" cy="229" r="1.25"/>
<circle cx="1462.55" cy="225.54" r="1.25"/>
<circle cx="1463.55" cy="222.09" r="1.25"/>
<circle cx="1464.56" cy="218.63" r="1.25"/>
<circle cx="1465.6" cy="215.18" r="1.25"/>
<circle cx="1466.68" cy="211.74" r="1.25"/>
<circle cx="1467.76" cy="208.31" r="1.25"/>
<circle cx="1469.1" cy="203.9" r="1.25"/>
<circle cx="1470.34" cy="199.48" r="1.25"/>
<circle cx="1471.46" cy="195.03" r="1.25"/>
<circle cx="1472.51" cy="190.55" r="1.25"/>
<circle cx="1473.51" cy="186.06" r="1.25"/>
<circle cx="1474.47" cy="181.56" r="1.25"/>
<circle cx="1475.4" cy="177.05" r="1.25"/>
<circle cx="1476.31" cy="172.54" r="1.25"/>
<circle cx="1477.22" cy="168.03" r="1.25"/>
<circle cx="1478.48" cy="161.65" r="1.25"/>
<circle cx="1479.72" cy="155.27" r="1.25"/>
<circle cx="1480.9" cy="148.87" r="1.25"/>
<circle cx="1482.03" cy="142.47" r="1.25"/>
<circle cx="1483.09" cy="136.06" r="1.25"/>
<circle cx="1484.08" cy="129.64" r="1.25"/>
<circle cx="1485.01" cy="123.2" r="1.25"/>
<circle cx="1486.16" cy="114.28" r="1.25"/>
<circle cx="1487.75" cy="105.42" r="1.25"/>
<circle cx="1488.48" cy="96.45" r="1.25"/>
<circle cx="1489.33" cy="87.49" r="1.25"/>
<circle cx="1490.36" cy="78.55" r="1.25"/>
<circle cx="1491.38" cy="69.61" r="1.25"/>
<circle cx="1491.96" cy="60.63" r="1.25"/>
<circle cx="1492.61" cy="51.64" r="1.25"/>
<ellipse cx="1494.3" cy="43.8" rx="0.6" ry="1.05"/>
<ellipse cx="1495.2" cy="46.5" rx="0.6" ry="1.05"/>
<circle cx="1496.4" cy="60.3" r="1.25"/>
<circle cx="1497.5" cy="93.2" r="1.25"/>
<circle cx="1498.1" cy="137.1" r="1.25"/>
<circle cx="1499.3" cy="179.5" r="1.25"/>
<circle cx="1500.2" cy="212.3" r="1.25"/>
<circle cx="1500.9" cy="236.4" r="1.25"/>
<circle cx="1501.8" cy="249.5" r="1.25"/>
<ellipse cx="1503" cy="257.8" rx="0.6" ry="1.05"/>
<ellipse cx="1503.44" cy="260.16" rx="0.6" ry="1.05"/>
<ellipse cx="1503.9" cy="262.52" rx="0.6" ry="1.05"/>
<ellipse cx="1504.38" cy="264.87" rx="0.6" ry="1.05"/>
<ellipse cx="1504.88" cy="267.22" rx="0.6" ry="1.05"/>
<ellipse cx="1505.39" cy="269.56" rx="0.6" ry="1.05"/>
<ellipse cx="1505.9" cy="271.91" rx="0.6" ry="1.05"/>
<ellipse cx="1506.41" cy="274.28" rx="0.6" ry="1.05"/>
<ellipse cx="1506.94" cy="276.63" rx="0.6" ry="1.05"/>
<ellipse cx="1507.53" cy="278.96" rx="0.6" ry="1.05"/>
<ellipse cx="1508.21" cy="281.23" rx="0.6" ry="1.05"/>
<ellipse cx="1509.01" cy="283.47" rx="0.6" ry="1.05"/>
<ellipse cx="1509.96" cy="285.7" rx="0.6" ry="1.05"/>
<ellipse cx="1511.03" cy="287.9" rx="0.6" ry="1.05"/>
<ellipse cx="1512.21" cy="290.03" rx="0.6" ry="1.05"/>
<ellipse cx="1513.47" cy="292.07" rx="0.6" ry="1.05"/>
<ellipse cx="1514.8" cy="293.98" rx="0.6" ry="1.05"/>
<ellipse cx="1516.31" cy="295.79" rx="0.6" ry="1.05"/>
<ellipse cx="1517.99" cy="297.52" rx="0.6" ry="1.05"/>
<ellipse cx="1519.76" cy="299.19" rx="0.6" ry="1.05"/>
<ellipse cx="1521.58" cy="300.82" rx="0.6" ry="1.05"/>
<ellipse cx="1523.36" cy="302.44" rx="0.6" ry="1.05"/>
<ellipse cx="1525.16" cy="304.03" rx="0.6" ry="1.05"/>
<ellipse cx="1527.61" cy="306.08" rx="0.6" ry="1.05"/>
<ellipse cx="1530.1" cy="308.1" rx="0.6" ry="1.05"/>
<ellipse cx="1532.61" cy="310.09" rx="0.6" ry="1.05"/>
<ellipse cx="1535.11" cy="312.13" rx="0.6" ry="1.05"/>
<ellipse cx="1537.62" cy="314.17" rx="0.6" ry="1.05"/>
<ellipse cx="1540.18" cy="316.11" rx="0.6" ry="1.05"/>
<ellipse cx="1542.82" cy="317.87" rx="0.6" ry="1.05"/>
<ellipse cx="1545.57" cy="319.38" rx="0.6" ry="1.05"/>
<ellipse cx="1548.44" cy="320.72" rx="0.6" ry="1.05"/>
<ellipse cx="1551.39" cy="321.96" rx="0.6" ry="1.05"/>
<ellipse cx="1554.4" cy="323.13" rx="0.6" ry="1.05"/>
<ellipse cx="1557.42" cy="324.26" rx="0.6" ry="1.05"/>
<ellipse cx="1560.44" cy="325.4" rx="0.6" ry="1.05"/>
<circle cx="1564.15" cy="326.9" r="1.25"/>
<circle cx="1567.86" cy="328.46" r="1.25"/>
<circle cx="1571.57" cy="329.98" r="1.25"/>
<circle cx="1575.32" cy="331.36" r="1.25"/>
<circle cx="1579.13" cy="332.51" r="1.25"/>
<circle cx="1583.01" cy="333.42" r="1.25"/>
<circle cx="1586.94" cy="334.2" r="1.25"/>
<circle cx="1590.87" cy="334.99" r="1.25"/>
<circle cx="1594.77" cy="335.92" r="1.25"/>
<circle cx="1598.67" cy="336.92" r="1.25"/>
<circle cx="1602.58" cy="337.71" r="1.25"/>
<circle cx="1606.53" cy="338.12" r="1.25"/>
<circle cx="1610.5" cy="338.46" r="1.25"/>
<circle cx="1614.49" cy="338.75" r="1.25"/>
<circle cx="1618.5" cy="338.99" r="1.25"/>
<circle cx="1622.51" cy="339.17" r="1.25"/>
<circle cx="1626.52" cy="339.28" r="1.25"/>
<circle cx="1630.52" cy="339.3" r="1.25"/>
<circle cx="1634.51" cy="339.27" r="1.25"/>
<circle cx="1638.51" cy="339.19" r="1.25"/>
<circle cx="1642.51" cy="339.1" r="1.25"/>
<circle cx="1646.51" cy="338.98" r="1.25"/>
<circle cx="1650.51" cy="338.85" r="1.25"/>
<circle cx="1654.51" cy="338.72" r="1.25"/>
<circle cx="1658.51" cy="338.57" r="1.25"/>
<circle cx="1662.5" cy="338.38" r="1.25"/>
<circle cx="1666.5" cy="338.16" r="1.25"/>
<circle cx="1670.49" cy="337.94" r="1.25"/>
<circle cx="1674.48" cy="337.71" r="1.25"/>
<circle cx="1678.48" cy="337.49" r="1.25"/>
<circle cx="1682.47" cy="337.3" r="1.25"/>
<circle cx="1686.47" cy="337.11" r="1.25"/>
<circle cx="1690.47" cy="336.92" r="1.25"/>
<circle cx="1694.46" cy="336.73" r="1.25"/>
<circle cx="1698.46" cy="336.56" r="1.25"/>
<circle cx="1702.46" cy="336.41" r="1.25"/>
<circle cx="1706.45" cy="336.28" r="1.25"/>
<circle cx="1710.45" cy="336.17" r="1.25"/>
<circle cx="1714.45" cy="336.06" r="1.25"/>
<circle cx="1718.45" cy="335.96" r="1.25"/>
<circle cx="1722.45" cy="335.88" r="1.25"/>
<ellipse cx="1726.45" cy="335.81" rx="0.6" ry="1.05"/>
<ellipse cx="1727.4" cy="335.8" rx="0.6" ry="1.05"/>
</g>
<g font-family="'Liberation Serif', 'Times New Roman', serif" font-weight="bold" fill="#000" font-size="32">
<text x="1530.7" y="462.8" text-anchor="middle" font-size="33"><tspan font-style="italic">T</tspan> (K)</text>
<text transform="translate(1224 203) rotate(-90)" text-anchor="middle" font-size="33.5"><tspan font-style="italic">C<tspan font-size="21" dy="6">mag</tspan></tspan><tspan dy="-6" font-style="italic">/T</tspan> (J.mol<tspan font-size="21" dy="-11">-1</tspan><tspan dy="11">.K</tspan><tspan font-size="21" dy="-11">-2</tspan><tspan dy="11">)</tspan></text>
</g>
<rect x="1569.2" y="56" width="177.8" height="142.3" fill="#fff"/>
<line x1="1570" y1="81.4" x2="1674" y2="81.4" stroke="#f00" stroke-width="3" stroke-dasharray="4.5 3.5"/>
<g fill="#fff" stroke="#8000ff" stroke-width="1.9">
<circle cx="1588.3" cy="188.6" r="3.2"/>
<circle cx="1589" cy="187.94" r="3.2"/>
<circle cx="1589.72" cy="187.31" r="3.2"/>
<circle cx="1590.47" cy="186.74" r="3.2"/>
<circle cx="1591.23" cy="186.25" r="3.2"/>
<circle cx="1592.01" cy="185.86" r="3.2"/>
<circle cx="1592.82" cy="185.62" r="3.2"/>
<circle cx="1593.65" cy="185.47" r="3.2"/>
<circle cx="1594.51" cy="185.34" r="3.2"/>
<circle cx="1595.4" cy="185.24" r="3.2"/>
<circle cx="1596.31" cy="185.14" r="3.2"/>
<circle cx="1597.23" cy="185.07" r="3.2"/>
<circle cx="1598.15" cy="185" r="3.2"/>
<circle cx="1599.07" cy="184.95" r="3.2"/>
<circle cx="1599.97" cy="184.9" r="3.2"/>
<circle cx="1600.87" cy="184.86" r="3.2"/>
<circle cx="1601.77" cy="184.82" r="3.2"/>
<circle cx="1602.67" cy="184.78" r="3.2"/>
<circle cx="1603.57" cy="184.75" r="3.2"/>
<circle cx="1604.47" cy="184.73" r="3.2"/>
<circle cx="1605.37" cy="184.71" r="3.2"/>
<circle cx="1606.27" cy="184.7" r="3.2"/>
<circle cx="1607.17" cy="184.7" r="3.2"/>
<circle cx="1608.07" cy="184.7" r="3.2"/>
<circle cx="1608.97" cy="184.7" r="3.2"/>
<circle cx="1609.87" cy="184.7" r="3.2"/>
<circle cx="1610.77" cy="184.7" r="3.2"/>
<circle cx="1611.67" cy="184.7" r="3.2"/>
<circle cx="1612.57" cy="184.7" r="3.2"/>
<circle cx="1613.47" cy="184.7" r="3.2"/>
<circle cx="1614.37" cy="184.7" r="3.2"/>
<circle cx="1615.28" cy="184.7" r="3.2"/>
<circle cx="1616.19" cy="184.69" r="3.2"/>
<circle cx="1617.09" cy="184.68" r="3.2"/>
<circle cx="1618" cy="184.66" r="3.2"/>
<circle cx="1618.9" cy="184.64" r="3.2"/>
<circle cx="1619.78" cy="184.62" r="3.2"/>
<circle cx="1620.66" cy="184.57" r="3.2"/>
<circle cx="1621.55" cy="184.38" r="3.2"/>
<circle cx="1622.42" cy="184.07" r="3.2"/>
<circle cx="1623.26" cy="183.68" r="3.2"/>
<circle cx="1624.04" cy="183.28" r="3.2"/>
<circle cx="1624.75" cy="182.79" r="3.2"/>
<circle cx="1625.42" cy="182.19" r="3.2"/>
<circle cx="1626.06" cy="181.52" r="3.2"/>
<circle cx="1626.69" cy="180.83" r="3.2"/>
<circle cx="1627.3" cy="180.18" r="3.2"/>
<circle cx="1627.91" cy="179.52" r="3.2"/>
<circle cx="1628.51" cy="178.84" r="3.2"/>
<circle cx="1629.09" cy="178.15" r="3.2"/>
<circle cx="1629.65" cy="177.44" r="3.2"/>
<circle cx="1630.2" cy="176.74" r="3.2"/>
<circle cx="1630.75" cy="176.02" r="3.2"/>
<circle cx="1631.29" cy="175.29" r="3.2"/>
<circle cx="1631.8" cy="174.54" r="3.2"/>
<circle cx="1632.28" cy="173.78" r="3.2"/>
<circle cx="1632.71" cy="173.01" r="3.2"/>
<circle cx="1633.12" cy="172.21" r="3.2"/>
<circle cx="1633.5" cy="171.4" r="3.2"/>
<circle cx="1633.86" cy="170.58" r="3.2"/>
<circle cx="1634.21" cy="169.74" r="3.2"/>
<circle cx="1634.55" cy="168.9" r="3.2"/>
<circle cx="1634.88" cy="168.06" r="3.2"/>
<circle cx="1635.21" cy="167.22" r="3.2"/>
<circle cx="1635.55" cy="166.38" r="3.2"/>
<circle cx="1635.88" cy="165.55" r="3.2"/>
<circle cx="1636.21" cy="164.71" r="3.2"/>
<circle cx="1636.54" cy="163.87" r="3.2"/>
<circle cx="1636.86" cy="163.03" r="3.2"/>
<circle cx="1637.18" cy="162.18" r="3.2"/>
<circle cx="1637.49" cy="161.34" r="3.2"/>
<circle cx="1637.79" cy="160.49" r="3.2"/>
<circle cx="1638.09" cy="159.64" r="3.2"/>
<circle cx="1638.38" cy="158.79" r="3.2"/>
<circle cx="1638.65" cy="157.93" r="3.2"/>
<circle cx="1638.92" cy="157.08" r="3.2"/>
<circle cx="1639.19" cy="156.22" r="3.2"/>
<circle cx="1639.45" cy="155.36" r="3.2"/>
<circle cx="1639.71" cy="154.5" r="3.2"/>
<circle cx="1639.96" cy="153.63" r="3.2"/>
<circle cx="1640.21" cy="152.77" r="3.2"/>
<circle cx="1640.46" cy="151.9" r="3.2"/>
<circle cx="1640.7" cy="151.04" r="3.2"/>
<circle cx="1640.94" cy="150.17" r="3.2"/>
<circle cx="1641.17" cy="149.3" r="3.2"/>
<circle cx="1641.4" cy="148.43" r="3.2"/>
<circle cx="1641.63" cy="147.56" r="3.2"/>
<circle cx="1641.86" cy="146.68" r="3.2"/>
<circle cx="1642.09" cy="145.81" r="3.2"/>
<circle cx="1642.31" cy="144.94" r="3.2"/>
<circle cx="1642.53" cy="144.07" r="3.2"/>
<circle cx="1642.75" cy="143.19" r="3.2"/>
<circle cx="1642.97" cy="142.32" r="3.2"/>
<circle cx="1643.19" cy="141.45" r="3.2"/>
<circle cx="1643.4" cy="140.57" r="3.2"/>
<circle cx="1643.62" cy="139.7" r="3.2"/>
<circle cx="1643.83" cy="138.83" r="3.2"/>
<circle cx="1644.04" cy="137.95" r="3.2"/>
<circle cx="1644.25" cy="137.08" r="3.2"/>
<circle cx="1644.45" cy="136.2" r="3.2"/>
<circle cx="1644.66" cy="135.32" r="3.2"/>
<circle cx="1644.86" cy="134.45" r="3.2"/>
<circle cx="1645.06" cy="133.57" r="3.2"/>
<circle cx="1645.26" cy="132.69" r="3.2"/>
<circle cx="1645.46" cy="131.81" r="3.2"/>
<circle cx="1645.65" cy="130.93" r="3.2"/>
<circle cx="1645.85" cy="130.05" r="3.2"/>
<circle cx="1646.04" cy="129.17" r="3.2"/>
<circle cx="1646.23" cy="128.3" r="3.2"/>
<circle cx="1646.43" cy="127.42" r="3.2"/>
<circle cx="1646.62" cy="126.54" r="3.2"/>
<circle cx="1646.81" cy="125.66" r="3.2"/>
<circle cx="1647" cy="124.78" r="3.2"/>
<circle cx="1647.19" cy="123.9" r="3.2"/>
<circle cx="1647.38" cy="123.02" r="3.2"/>
<circle cx="1647.56" cy="122.14" r="3.2"/>
<circle cx="1647.75" cy="121.26" r="3.2"/>
<circle cx="1647.93" cy="120.37" r="3.2"/>
<circle cx="1648.11" cy="119.49" r="3.2"/>
<circle cx="1648.28" cy="118.6" r="3.2"/>
<circle cx="1648.44" cy="117.71" r="3.2"/>
<circle cx="1648.6" cy="116.82" r="3.2"/>
<circle cx="1648.76" cy="115.93" r="3.2"/>
<circle cx="1648.92" cy="115.04" r="3.2"/>
<circle cx="1649.08" cy="114.15" r="3.2"/>
<circle cx="1649.25" cy="113.26" r="3.2"/>
<circle cx="1649.41" cy="112.38" r="3.2"/>
<circle cx="1649.59" cy="111.49" r="3.2"/>
<circle cx="1649.76" cy="110.61" r="3.2"/>
<circle cx="1649.95" cy="109.73" r="3.2"/>
<circle cx="1650.15" cy="108.86" r="3.2"/>
<circle cx="1650.36" cy="107.99" r="3.2"/>
<circle cx="1650.58" cy="107.12" r="3.2"/>
<circle cx="1650.81" cy="106.26" r="3.2"/>
<circle cx="1651.06" cy="105.41" r="3.2"/>
<circle cx="1651.33" cy="104.54" r="3.2"/>
<circle cx="1651.63" cy="103.68" r="3.2"/>
<circle cx="1651.94" cy="102.82" r="3.2"/>
<circle cx="1652.27" cy="101.97" r="3.2"/>
<circle cx="1652.62" cy="101.13" r="3.2"/>
<circle cx="1652.99" cy="100.31" r="3.2"/>
<circle cx="1653.38" cy="99.51" r="3.2"/>
<circle cx="1653.78" cy="98.73" r="3.2"/>
<circle cx="1654.22" cy="97.97" r="3.2"/>
<circle cx="1654.69" cy="97.22" r="3.2"/>
<circle cx="1655.2" cy="96.47" r="3.2"/>
<circle cx="1655.73" cy="95.74" r="3.2"/>
<circle cx="1656.3" cy="95.02" r="3.2"/>
<circle cx="1656.88" cy="94.32" r="3.2"/>
<circle cx="1657.48" cy="93.63" r="3.2"/>
<circle cx="1658.1" cy="92.95" r="3.2"/>
<circle cx="1658.72" cy="92.29" r="3.2"/>
<circle cx="1659.35" cy="91.64" r="3.2"/>
<circle cx="1659.98" cy="91.02" r="3.2"/>
<circle cx="1660.63" cy="90.4" r="3.2"/>
<circle cx="1661.3" cy="89.8" r="3.2"/>
<circle cx="1661.99" cy="89.21" r="3.2"/>
<circle cx="1662.7" cy="88.64" r="3.2"/>
<circle cx="1663.42" cy="88.09" r="3.2"/>
<circle cx="1664.16" cy="87.57" r="3.2"/>
<circle cx="1664.9" cy="87.07" r="3.2"/>
<circle cx="1665.65" cy="86.58" r="3.2"/>
<circle cx="1666.42" cy="86.11" r="3.2"/>
<circle cx="1667.2" cy="85.66" r="3.2"/>
<circle cx="1668" cy="85.22" r="3.2"/>
<circle cx="1668.8" cy="84.81" r="3.2"/>
<circle cx="1669.62" cy="84.42" r="3.2"/>
<circle cx="1670.44" cy="84.07" r="3.2"/>
<circle cx="1671.27" cy="83.74" r="3.2"/>
<circle cx="1672.11" cy="83.42" r="3.2"/>
<circle cx="1672.96" cy="83.12" r="3.2"/>
<circle cx="1673.81" cy="82.84" r="3.2"/>
<circle cx="1674.68" cy="82.56" r="3.2"/>
<circle cx="1675.55" cy="82.31" r="3.2"/>
<circle cx="1676.42" cy="82.08" r="3.2"/>
<circle cx="1677.3" cy="81.86" r="3.2"/>
<circle cx="1678.17" cy="81.66" r="3.2"/>
<circle cx="1679.05" cy="81.48" r="3.2"/>
<circle cx="1679.93" cy="81.29" r="3.2"/>
<circle cx="1680.81" cy="81.12" r="3.2"/>
<circle cx="1681.7" cy="80.96" r="3.2"/>
<circle cx="1682.59" cy="80.81" r="3.2"/>
<circle cx="1683.49" cy="80.67" r="3.2"/>
<circle cx="1684.38" cy="80.55" r="3.2"/>
<circle cx="1685.27" cy="80.45" r="3.2"/>
<circle cx="1686.17" cy="80.38" r="3.2"/>
<circle cx="1687.06" cy="80.31" r="3.2"/>
<circle cx="1687.96" cy="80.25" r="3.2"/>
<circle cx="1688.86" cy="80.19" r="3.2"/>
<circle cx="1689.75" cy="80.14" r="3.2"/>
<circle cx="1690.65" cy="80.09" r="3.2"/>
<circle cx="1691.55" cy="80.04" r="3.2"/>
<circle cx="1692.45" cy="80" r="3.2"/>
<circle cx="1693.36" cy="79.97" r="3.2"/>
<circle cx="1694.26" cy="79.94" r="3.2"/>
<circle cx="1695.16" cy="79.92" r="3.2"/>
<circle cx="1696.06" cy="79.9" r="3.2"/>
<circle cx="1696.96" cy="79.89" r="3.2"/>
<circle cx="1697.86" cy="79.87" r="3.2"/>
<circle cx="1698.76" cy="79.86" r="3.2"/>
<circle cx="1699.66" cy="79.85" r="3.2"/>
<circle cx="1700.56" cy="79.84" r="3.2"/>
<circle cx="1701.46" cy="79.83" r="3.2"/>
<circle cx="1702.36" cy="79.82" r="3.2"/>
<circle cx="1703.26" cy="79.81" r="3.2"/>
<circle cx="1704.16" cy="79.81" r="3.2"/>
<circle cx="1705.06" cy="79.8" r="3.2"/>
<circle cx="1705.96" cy="79.8" r="3.2"/>
<circle cx="1706.86" cy="79.8" r="3.2"/>
<circle cx="1707.76" cy="79.8" r="3.2"/>
<circle cx="1708.65" cy="79.82" r="3.2"/>
<circle cx="1709.55" cy="79.85" r="3.2"/>
<circle cx="1710.45" cy="79.89" r="3.2"/>
<circle cx="1711.35" cy="79.94" r="3.2"/>
<circle cx="1712.25" cy="80" r="3.2"/>
<circle cx="1713.15" cy="80.06" r="3.2"/>
<circle cx="1714.05" cy="80.13" r="3.2"/>
<circle cx="1714.94" cy="80.19" r="3.2"/>
<circle cx="1715.84" cy="80.26" r="3.2"/>
<circle cx="1716.74" cy="80.32" r="3.2"/>
<circle cx="1717.64" cy="80.38" r="3.2"/>
<circle cx="1718.54" cy="80.43" r="3.2"/>
<circle cx="1719.44" cy="80.49" r="3.2"/>
<circle cx="1720.34" cy="80.55" r="3.2"/>
<circle cx="1721.23" cy="80.61" r="3.2"/>
<circle cx="1722.13" cy="80.67" r="3.2"/>
<circle cx="1723.03" cy="80.73" r="3.2"/>
<circle cx="1723.93" cy="80.79" r="3.2"/>
<circle cx="1724.83" cy="80.85" r="3.2"/>
<circle cx="1725.73" cy="80.9" r="3.2"/>
<circle cx="1726.62" cy="80.94" r="3.2"/>
<circle cx="1727.52" cy="80.97" r="3.2"/>
<circle cx="1728.42" cy="81" r="3.2"/>
<circle cx="1729.32" cy="81.02" r="3.2"/>
<circle cx="1730.22" cy="81.03" r="3.2"/>
<circle cx="1731.12" cy="81.05" r="3.2"/>
<circle cx="1732.02" cy="81.06" r="3.2"/>
<circle cx="1732.92" cy="81.07" r="3.2"/>
<circle cx="1733.82" cy="81.08" r="3.2"/>
<circle cx="1734.72" cy="81.09" r="3.2"/>
<circle cx="1735.62" cy="81.1" r="3.2"/>
<circle cx="1736.52" cy="81.1" r="3.2"/>
<circle cx="1737.42" cy="81.1" r="3.2"/>
<circle cx="1738.32" cy="81.1" r="3.2"/>
<circle cx="1739.22" cy="81.09" r="3.2"/>
<circle cx="1740.12" cy="81.09" r="3.2"/>
<circle cx="1741.02" cy="81.08" r="3.2"/>
<circle cx="1741.92" cy="81.07" r="3.2"/>
<circle cx="1742.82" cy="81.06" r="3.2"/>
<circle cx="1743.72" cy="81.05" r="3.2"/>
<circle cx="1744.62" cy="81.03" r="3.2"/>
<circle cx="1745.52" cy="81.01" r="3.2"/>
<circle cx="1746.2" cy="81" r="3.2"/>
</g>
<g font-family="'Liberation Serif', 'Times New Roman', serif" font-weight="bold" fill="#000">
<path d="M1585.36 198.3V191.5M1585.36 56V62.8M1625.77 198.3V191.5M1625.77 56V62.8M1666.18 198.3V191.5M1666.18 56V62.8M1706.59 198.3V191.5M1706.59 56V62.8M1747 198.3V191.5M1747 56V62.8M1605.57 198.3V194.9M1605.57 56V59.4M1645.98 198.3V194.9M1645.98 56V59.4M1686.39 198.3V194.9M1686.39 56V59.4M1726.8 198.3V194.9M1726.8 56V59.4M1569.2 188.8H1576M1747 188.8H1740.2M1569.2 150.72H1576M1747 150.72H1740.2M1569.2 112.64H1576M1747 112.64H1740.2M1569.2 74.56H1576M1747 74.56H1740.2M1569.2 169.76H1572.6M1747 169.76H1743.6M1569.2 131.68H1572.6M1747 131.68H1743.6M1569.2 93.6H1572.6M1747 93.6H1743.6" stroke="#000" stroke-width="2.1" fill="none"/>
<rect x="1569.2" y="56" width="177.8" height="142.3" stroke="#000" stroke-width="2.1" fill="none"/>
<text x="1585.36" y="224.5" font-size="23" text-anchor="middle">0</text>
<text x="1625.77" y="224.5" font-size="23" text-anchor="middle">25</text>
<text x="1666.18" y="224.5" font-size="23" text-anchor="middle">50</text>
<text x="1706.59" y="224.5" font-size="23" text-anchor="middle">75</text>
<text x="1747" y="224.5" font-size="23" text-anchor="middle">100</text>
<text x="1560" y="196.7" font-size="23" text-anchor="end">0</text>
<text x="1560" y="158.62" font-size="23" text-anchor="end">4</text>
<text x="1560" y="120.54" font-size="23" text-anchor="end">8</text>
<text x="1560" y="82.46" font-size="23" text-anchor="end">12</text>
</g>
<g font-family="'Liberation Serif', 'Times New Roman', serif" font-weight="bold" fill="#000" font-size="24">
<text x="1658.5" y="250" text-anchor="middle"><tspan font-style="italic">T</tspan> (K)</text>
<text transform="translate(1530.5 119.2) rotate(-90)" text-anchor="middle" font-size="19"><tspan font-style="italic">&#916;S<tspan font-size="13" dy="4">mag</tspan></tspan><tspan dy="-4"> (J. mol</tspan><tspan font-size="12" dy="-7">-1</tspan><tspan dy="7">. K</tspan><tspan font-size="12" dy="-7">-1</tspan><tspan dy="7">)</tspan></text>
</g>
<g font-family="'Liberation Sans', Arial, sans-serif" font-weight="bold" font-size="38.5" fill="#000">
<text x="8.3" y="30.6">A</text>
<text x="614.8" y="30.6">B</text>
<text x="1199.3" y="30.6">C</text>
</g>
</svg>
</body></html>
